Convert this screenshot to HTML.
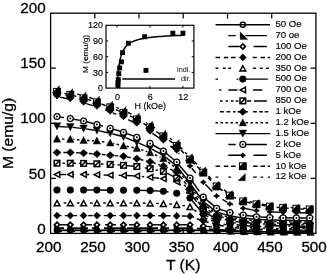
<!DOCTYPE html>
<html lang="en">
<head>
<meta charset="utf-8">
<title>M(T) curves</title>
<style>
html,body{margin:0;padding:0;background:#fff;}
body{width:327px;height:274px;overflow:hidden;}
svg{display:block;}
svg text{font-family:"Liberation Sans", Arial, Helvetica, sans-serif;}
</style>
</head>
<body>
<svg width="327" height="274" viewBox="0 0 327 274" fill="#000">
<rect width="327" height="274" fill="#fff"/>
<g id="curves">
<g stroke="#000" stroke-width="1.8" fill="none"><line x1="57.0" y1="230.3" x2="70.3" y2="230.3"/><line x1="70.3" y1="230.3" x2="83.6" y2="230.3"/><line x1="83.6" y1="230.3" x2="96.9" y2="230.3"/><line x1="96.9" y1="230.3" x2="110.2" y2="230.3"/><line x1="110.2" y1="230.3" x2="123.5" y2="230.3"/><line x1="123.5" y1="230.3" x2="136.8" y2="230.3"/><line x1="136.8" y1="230.3" x2="150.1" y2="230.3"/><line x1="150.1" y1="230.3" x2="163.4" y2="230.3"/><line x1="163.4" y1="230.3" x2="176.7" y2="230.3"/><line x1="176.7" y1="230.3" x2="190.0" y2="230.3"/><line x1="190.0" y1="230.3" x2="203.3" y2="230.3"/><line x1="203.3" y1="230.3" x2="216.6" y2="230.8"/><line x1="216.6" y1="230.8" x2="229.9" y2="231.3"/><line x1="229.9" y1="231.3" x2="243.2" y2="231.6"/><line x1="243.2" y1="231.6" x2="256.5" y2="231.8"/><line x1="256.5" y1="231.8" x2="269.8" y2="231.9"/><line x1="269.8" y1="231.9" x2="283.1" y2="232.0"/><line x1="283.1" y1="232.0" x2="296.4" y2="232.0"/><line x1="296.4" y1="232.0" x2="309.7" y2="232.0"/></g>
<g stroke="#000" stroke-width="1.8" fill="none"><line x1="57.5" y1="228.2" x2="69.8" y2="228.2" stroke-dasharray="7 5 19 4" stroke-dashoffset="0.5"/><line x1="70.8" y1="228.2" x2="83.1" y2="228.2" stroke-dasharray="7 5 19 4" stroke-dashoffset="13.8"/><line x1="84.1" y1="228.2" x2="96.4" y2="228.2" stroke-dasharray="7 5 19 4" stroke-dashoffset="27.1"/><line x1="97.4" y1="228.2" x2="109.7" y2="228.2" stroke-dasharray="7 5 19 4" stroke-dashoffset="5.4"/><line x1="110.7" y1="228.2" x2="123.0" y2="228.2" stroke-dasharray="7 5 19 4" stroke-dashoffset="18.7"/><line x1="124.0" y1="228.2" x2="136.3" y2="228.2" stroke-dasharray="7 5 19 4" stroke-dashoffset="32.0"/><line x1="137.3" y1="228.2" x2="149.6" y2="228.2" stroke-dasharray="7 5 19 4" stroke-dashoffset="10.3"/><line x1="150.6" y1="228.2" x2="162.9" y2="228.2" stroke-dasharray="7 5 19 4" stroke-dashoffset="23.6"/><line x1="163.9" y1="228.2" x2="176.2" y2="228.2" stroke-dasharray="7 5 19 4" stroke-dashoffset="1.9"/><line x1="177.2" y1="228.2" x2="189.5" y2="228.2" stroke-dasharray="7 5 19 4" stroke-dashoffset="15.2"/><line x1="190.5" y1="228.2" x2="202.8" y2="228.8" stroke-dasharray="7 5 19 4" stroke-dashoffset="28.5"/><line x1="203.8" y1="228.8" x2="216.1" y2="229.6" stroke-dasharray="7 5 19 4" stroke-dashoffset="6.8"/><line x1="217.1" y1="229.6" x2="229.4" y2="230.4" stroke-dasharray="7 5 19 4" stroke-dashoffset="20.1"/><line x1="230.4" y1="230.4" x2="242.7" y2="230.9" stroke-dasharray="7 5 19 4" stroke-dashoffset="33.5"/><line x1="243.7" y1="230.9" x2="256.0" y2="231.2" stroke-dasharray="7 5 19 4" stroke-dashoffset="11.8"/><line x1="257.0" y1="231.2" x2="269.3" y2="231.4" stroke-dasharray="7 5 19 4" stroke-dashoffset="25.1"/><line x1="270.3" y1="231.4" x2="282.6" y2="231.5" stroke-dasharray="7 5 19 4" stroke-dashoffset="3.4"/><line x1="283.6" y1="231.5" x2="295.9" y2="231.6" stroke-dasharray="7 5 19 4" stroke-dashoffset="16.7"/><line x1="296.9" y1="231.6" x2="309.2" y2="231.6" stroke-dasharray="7 5 19 4" stroke-dashoffset="30.0"/></g>
<g stroke="#000" stroke-width="1.45" fill="none"><line x1="60.2" y1="224.8" x2="67.1" y2="224.8" stroke-dasharray="11 13" stroke-dashoffset="3.2"/><line x1="73.5" y1="224.8" x2="80.4" y2="224.8" stroke-dasharray="11 13" stroke-dashoffset="16.5"/><line x1="86.8" y1="224.8" x2="93.7" y2="224.8" stroke-dasharray="11 13" stroke-dashoffset="5.8"/><line x1="100.1" y1="224.8" x2="107.0" y2="224.8" stroke-dasharray="11 13" stroke-dashoffset="19.1"/><line x1="113.4" y1="224.8" x2="120.3" y2="224.8" stroke-dasharray="11 13" stroke-dashoffset="8.4"/><line x1="126.7" y1="224.8" x2="133.6" y2="224.8" stroke-dasharray="11 13" stroke-dashoffset="21.7"/><line x1="140.0" y1="224.8" x2="146.9" y2="224.8" stroke-dasharray="11 13" stroke-dashoffset="11.0"/><line x1="153.3" y1="224.8" x2="160.2" y2="224.8" stroke-dasharray="11 13" stroke-dashoffset="0.3"/><line x1="166.6" y1="224.8" x2="173.5" y2="224.8" stroke-dasharray="11 13" stroke-dashoffset="13.6"/><line x1="179.9" y1="224.8" x2="186.8" y2="224.8" stroke-dasharray="11 13" stroke-dashoffset="2.9"/><line x1="193.2" y1="225.1" x2="200.1" y2="225.7" stroke-dasharray="11 13" stroke-dashoffset="16.2"/><line x1="206.5" y1="226.4" x2="213.4" y2="227.2" stroke-dasharray="11 13" stroke-dashoffset="5.6"/><line x1="219.8" y1="227.9" x2="226.7" y2="228.7" stroke-dasharray="11 13" stroke-dashoffset="18.9"/><line x1="233.1" y1="229.2" x2="240.0" y2="229.6" stroke-dasharray="11 13" stroke-dashoffset="8.3"/><line x1="246.4" y1="229.9" x2="253.3" y2="230.2" stroke-dasharray="11 13" stroke-dashoffset="21.6"/><line x1="259.7" y1="230.4" x2="266.6" y2="230.5" stroke-dasharray="11 13" stroke-dashoffset="11.0"/><line x1="273.0" y1="230.6" x2="279.9" y2="230.8" stroke-dasharray="11 13" stroke-dashoffset="0.3"/><line x1="286.3" y1="230.8" x2="293.2" y2="230.9" stroke-dasharray="11 13" stroke-dashoffset="13.6"/><line x1="299.6" y1="230.9" x2="306.5" y2="231.0" stroke-dasharray="11 13" stroke-dashoffset="2.9"/></g>
<g stroke="#000" stroke-width="1.45" fill="none"><line x1="59.9" y1="215.6" x2="67.4" y2="215.6" stroke-dasharray="4.5 3.3" stroke-dashoffset="2.9"/><line x1="73.2" y1="215.6" x2="80.7" y2="215.6" stroke-dasharray="4.5 3.3" stroke-dashoffset="0.6"/><line x1="86.5" y1="215.6" x2="94.0" y2="215.6" stroke-dasharray="4.5 3.3" stroke-dashoffset="6.1"/><line x1="99.8" y1="215.6" x2="107.3" y2="215.6" stroke-dasharray="4.5 3.3" stroke-dashoffset="3.8"/><line x1="113.1" y1="215.6" x2="120.6" y2="215.6" stroke-dasharray="4.5 3.3" stroke-dashoffset="1.5"/><line x1="126.4" y1="215.6" x2="133.9" y2="215.6" stroke-dasharray="4.5 3.3" stroke-dashoffset="7.0"/><line x1="139.7" y1="215.6" x2="147.2" y2="215.6" stroke-dasharray="4.5 3.3" stroke-dashoffset="4.7"/><line x1="153.0" y1="215.6" x2="160.5" y2="215.7" stroke-dasharray="4.5 3.3" stroke-dashoffset="2.4"/><line x1="166.3" y1="215.7" x2="173.8" y2="215.9" stroke-dasharray="4.5 3.3" stroke-dashoffset="0.1"/><line x1="179.6" y1="216.0" x2="187.1" y2="216.1" stroke-dasharray="4.5 3.3" stroke-dashoffset="5.6"/><line x1="192.7" y1="217.2" x2="200.6" y2="220.0" stroke-dasharray="4.5 3.3" stroke-dashoffset="3.3"/><line x1="206.1" y1="221.8" x2="213.8" y2="223.8" stroke-dasharray="4.5 3.3" stroke-dashoffset="1.8"/><line x1="219.4" y1="225.2" x2="227.1" y2="226.6" stroke-dasharray="4.5 3.3" stroke-dashoffset="0.0"/><line x1="232.8" y1="227.5" x2="240.3" y2="228.1" stroke-dasharray="4.5 3.3" stroke-dashoffset="5.8"/><line x1="246.1" y1="228.6" x2="253.6" y2="228.9" stroke-dasharray="4.5 3.3" stroke-dashoffset="3.5"/><line x1="259.4" y1="229.2" x2="266.9" y2="229.4" stroke-dasharray="4.5 3.3" stroke-dashoffset="1.2"/><line x1="272.7" y1="229.6" x2="280.2" y2="229.7" stroke-dasharray="4.5 3.3" stroke-dashoffset="6.8"/><line x1="286.0" y1="229.8" x2="293.5" y2="229.9" stroke-dasharray="4.5 3.3" stroke-dashoffset="4.5"/><line x1="299.3" y1="229.9" x2="306.8" y2="230.0" stroke-dasharray="4.5 3.3" stroke-dashoffset="2.2"/></g>
<g stroke="#000" stroke-width="1.45" fill="none"><line x1="60.0" y1="203.0" x2="67.3" y2="203.0" stroke-dasharray="2.7 3.9" stroke-dashoffset="3.0"/><line x1="73.3" y1="203.0" x2="80.6" y2="203.0" stroke-dasharray="2.7 3.9" stroke-dashoffset="3.1"/><line x1="86.6" y1="203.0" x2="93.9" y2="203.0" stroke-dasharray="2.7 3.9" stroke-dashoffset="3.2"/><line x1="99.9" y1="203.0" x2="107.2" y2="203.0" stroke-dasharray="2.7 3.9" stroke-dashoffset="3.3"/><line x1="113.2" y1="203.0" x2="120.5" y2="203.0" stroke-dasharray="2.7 3.9" stroke-dashoffset="3.4"/><line x1="126.5" y1="203.0" x2="133.8" y2="203.0" stroke-dasharray="2.7 3.9" stroke-dashoffset="3.5"/><line x1="139.8" y1="203.0" x2="147.1" y2="203.2" stroke-dasharray="2.7 3.9" stroke-dashoffset="3.6"/><line x1="153.1" y1="203.3" x2="160.4" y2="203.5" stroke-dasharray="2.7 3.9" stroke-dashoffset="3.7"/><line x1="166.4" y1="203.8" x2="173.7" y2="204.4" stroke-dasharray="2.7 3.9" stroke-dashoffset="3.8"/><line x1="179.7" y1="205.0" x2="187.0" y2="206.2" stroke-dasharray="2.7 3.9" stroke-dashoffset="3.9"/><line x1="192.4" y1="208.4" x2="200.9" y2="215.2" stroke-dasharray="2.7 3.9" stroke-dashoffset="4.2"/><line x1="206.1" y1="218.2" x2="213.8" y2="221.4" stroke-dasharray="2.7 3.9" stroke-dashoffset="1.3"/><line x1="219.5" y1="223.3" x2="227.0" y2="224.9" stroke-dasharray="2.7 3.9" stroke-dashoffset="2.5"/><line x1="232.9" y1="225.9" x2="240.2" y2="226.7" stroke-dasharray="2.7 3.9" stroke-dashoffset="2.9"/><line x1="246.2" y1="227.2" x2="253.5" y2="227.6" stroke-dasharray="2.7 3.9" stroke-dashoffset="3.1"/><line x1="259.5" y1="227.9" x2="266.8" y2="228.2" stroke-dasharray="2.7 3.9" stroke-dashoffset="3.2"/><line x1="272.8" y1="228.4" x2="280.1" y2="228.5" stroke-dasharray="2.7 3.9" stroke-dashoffset="3.3"/><line x1="286.1" y1="228.6" x2="293.4" y2="228.8" stroke-dasharray="2.7 3.9" stroke-dashoffset="3.5"/><line x1="299.4" y1="228.8" x2="306.7" y2="228.9" stroke-dasharray="2.7 3.9" stroke-dashoffset="3.6"/></g>
<g stroke="#000" stroke-width="1.45" fill="none"><line x1="60.2" y1="190.0" x2="67.1" y2="190.0" stroke-dasharray="2.5 24 25 3" stroke-dashoffset="3.2"/><line x1="73.5" y1="190.0" x2="80.4" y2="190.0" stroke-dasharray="2.5 24 25 3" stroke-dashoffset="16.5"/><line x1="86.8" y1="190.0" x2="93.7" y2="190.0" stroke-dasharray="2.5 24 25 3" stroke-dashoffset="29.8"/><line x1="100.1" y1="190.0" x2="107.0" y2="190.2" stroke-dasharray="2.5 24 25 3" stroke-dashoffset="43.1"/><line x1="113.4" y1="190.2" x2="120.3" y2="190.3" stroke-dasharray="2.5 24 25 3" stroke-dashoffset="1.9"/><line x1="126.7" y1="190.3" x2="133.6" y2="190.3" stroke-dasharray="2.5 24 25 3" stroke-dashoffset="15.2"/><line x1="140.0" y1="190.4" x2="146.9" y2="190.5" stroke-dasharray="2.5 24 25 3" stroke-dashoffset="28.5"/><line x1="153.3" y1="190.8" x2="160.2" y2="191.1" stroke-dasharray="2.5 24 25 3" stroke-dashoffset="41.8"/><line x1="166.6" y1="191.8" x2="173.5" y2="192.8" stroke-dasharray="2.5 24 25 3" stroke-dashoffset="0.6"/><line x1="179.7" y1="194.4" x2="187.0" y2="196.9" stroke-dasharray="2.5 24 25 3" stroke-dashoffset="14.1"/><line x1="192.0" y1="200.5" x2="201.3" y2="211.5" stroke-dasharray="2.5 24 25 3" stroke-dashoffset="28.2"/><line x1="206.1" y1="215.5" x2="213.8" y2="219.3" stroke-dasharray="2.5 24 25 3" stroke-dashoffset="49.0"/><line x1="219.7" y1="221.5" x2="226.8" y2="223.3" stroke-dasharray="2.5 24 25 3" stroke-dashoffset="9.4"/><line x1="233.1" y1="224.4" x2="240.0" y2="225.1" stroke-dasharray="2.5 24 25 3" stroke-dashoffset="23.1"/><line x1="246.4" y1="225.7" x2="253.3" y2="226.2" stroke-dasharray="2.5 24 25 3" stroke-dashoffset="36.5"/><line x1="259.7" y1="226.5" x2="266.6" y2="226.9" stroke-dasharray="2.5 24 25 3" stroke-dashoffset="49.8"/><line x1="273.0" y1="227.1" x2="279.9" y2="227.2" stroke-dasharray="2.5 24 25 3" stroke-dashoffset="8.6"/><line x1="286.3" y1="227.3" x2="293.2" y2="227.5" stroke-dasharray="2.5 24 25 3" stroke-dashoffset="21.9"/><line x1="299.6" y1="227.5" x2="306.5" y2="227.6" stroke-dasharray="2.5 24 25 3" stroke-dashoffset="35.2"/></g>
<g stroke="#000" stroke-width="1.45" fill="none"><line x1="60.0" y1="174.5" x2="67.3" y2="174.5" stroke-dasharray="9 6 2.3 6" stroke-dashoffset="3.0"/><line x1="73.3" y1="174.5" x2="80.6" y2="174.5" stroke-dasharray="9 6 2.3 6" stroke-dashoffset="16.3"/><line x1="86.6" y1="174.5" x2="93.9" y2="174.7" stroke-dasharray="9 6 2.3 6" stroke-dashoffset="6.3"/><line x1="99.9" y1="174.8" x2="107.2" y2="175.1" stroke-dasharray="9 6 2.3 6" stroke-dashoffset="19.6"/><line x1="113.2" y1="175.2" x2="120.5" y2="175.4" stroke-dasharray="9 6 2.3 6" stroke-dashoffset="9.6"/><line x1="126.5" y1="175.5" x2="133.8" y2="175.9" stroke-dasharray="9 6 2.3 6" stroke-dashoffset="22.9"/><line x1="139.8" y1="176.3" x2="147.1" y2="177.0" stroke-dasharray="9 6 2.3 6" stroke-dashoffset="12.9"/><line x1="153.1" y1="177.6" x2="160.4" y2="178.5" stroke-dasharray="9 6 2.3 6" stroke-dashoffset="3.0"/><line x1="166.3" y1="179.5" x2="173.8" y2="181.1" stroke-dasharray="9 6 2.3 6" stroke-dashoffset="16.4"/><line x1="179.0" y1="183.7" x2="187.7" y2="190.6" stroke-dasharray="9 6 2.3 6" stroke-dashoffset="6.7"/><line x1="191.7" y1="195.0" x2="201.6" y2="209.0" stroke-dasharray="9 6 2.3 6" stroke-dashoffset="0.5"/><line x1="205.9" y1="213.0" x2="214.0" y2="217.5" stroke-dasharray="9 6 2.3 6" stroke-dashoffset="0.4"/><line x1="219.5" y1="219.7" x2="227.0" y2="221.7" stroke-dasharray="9 6 2.3 6" stroke-dashoffset="15.6"/><line x1="232.9" y1="222.8" x2="240.2" y2="223.6" stroke-dasharray="9 6 2.3 6" stroke-dashoffset="6.1"/><line x1="246.2" y1="224.2" x2="253.5" y2="224.8" stroke-dasharray="9 6 2.3 6" stroke-dashoffset="19.5"/><line x1="259.5" y1="225.1" x2="266.8" y2="225.5" stroke-dasharray="9 6 2.3 6" stroke-dashoffset="9.5"/><line x1="272.8" y1="225.7" x2="280.1" y2="225.8" stroke-dasharray="9 6 2.3 6" stroke-dashoffset="22.8"/><line x1="286.1" y1="225.9" x2="293.4" y2="226.1" stroke-dasharray="9 6 2.3 6" stroke-dashoffset="12.8"/><line x1="299.4" y1="226.1" x2="306.7" y2="226.2" stroke-dasharray="9 6 2.3 6" stroke-dashoffset="2.8"/></g>
<g stroke="#000" stroke-width="1.45" fill="none"><line x1="60.2" y1="163.2" x2="67.1" y2="163.2" stroke-dasharray="2.4 3.1 2.4 3.1 2.4 3.1 2.4 3.1 17 5" stroke-dashoffset="3.2"/><line x1="73.5" y1="163.2" x2="80.4" y2="163.4" stroke-dasharray="2.4 3.1 2.4 3.1 2.4 3.1 2.4 3.1 17 5" stroke-dashoffset="16.5"/><line x1="86.8" y1="163.5" x2="93.7" y2="163.7" stroke-dasharray="2.4 3.1 2.4 3.1 2.4 3.1 2.4 3.1 17 5" stroke-dashoffset="29.8"/><line x1="100.1" y1="163.9" x2="107.0" y2="164.3" stroke-dasharray="2.4 3.1 2.4 3.1 2.4 3.1 2.4 3.1 17 5" stroke-dashoffset="43.1"/><line x1="113.4" y1="164.6" x2="120.3" y2="165.1" stroke-dasharray="2.4 3.1 2.4 3.1 2.4 3.1 2.4 3.1 17 5" stroke-dashoffset="12.4"/><line x1="126.7" y1="165.6" x2="133.6" y2="166.2" stroke-dasharray="2.4 3.1 2.4 3.1 2.4 3.1 2.4 3.1 17 5" stroke-dashoffset="25.8"/><line x1="140.0" y1="167.0" x2="146.9" y2="168.2" stroke-dasharray="2.4 3.1 2.4 3.1 2.4 3.1 2.4 3.1 17 5" stroke-dashoffset="39.1"/><line x1="153.2" y1="169.4" x2="160.3" y2="170.8" stroke-dasharray="2.4 3.1 2.4 3.1 2.4 3.1 2.4 3.1 17 5" stroke-dashoffset="8.6"/><line x1="166.3" y1="172.9" x2="173.8" y2="176.6" stroke-dasharray="2.4 3.1 2.4 3.1 2.4 3.1 2.4 3.1 17 5" stroke-dashoffset="22.2"/><line x1="179.0" y1="180.2" x2="187.7" y2="188.3" stroke-dasharray="2.4 3.1 2.4 3.1 2.4 3.1 2.4 3.1 17 5" stroke-dashoffset="37.0"/><line x1="191.8" y1="193.1" x2="201.5" y2="206.9" stroke-dasharray="2.4 3.1 2.4 3.1 2.4 3.1 2.4 3.1 17 5" stroke-dashoffset="11.2"/><line x1="206.1" y1="211.1" x2="213.8" y2="215.6" stroke-dasharray="2.4 3.1 2.4 3.1 2.4 3.1 2.4 3.1 17 5" stroke-dashoffset="34.4"/><line x1="219.7" y1="218.0" x2="226.8" y2="220.0" stroke-dasharray="2.4 3.1 2.4 3.1 2.4 3.1 2.4 3.1 17 5" stroke-dashoffset="5.8"/><line x1="233.1" y1="221.2" x2="240.0" y2="222.1" stroke-dasharray="2.4 3.1 2.4 3.1 2.4 3.1 2.4 3.1 17 5" stroke-dashoffset="19.6"/><line x1="246.4" y1="222.8" x2="253.3" y2="223.3" stroke-dasharray="2.4 3.1 2.4 3.1 2.4 3.1 2.4 3.1 17 5" stroke-dashoffset="33.0"/><line x1="259.7" y1="223.8" x2="266.6" y2="224.1" stroke-dasharray="2.4 3.1 2.4 3.1 2.4 3.1 2.4 3.1 17 5" stroke-dashoffset="2.3"/><line x1="273.0" y1="224.4" x2="279.9" y2="224.5" stroke-dasharray="2.4 3.1 2.4 3.1 2.4 3.1 2.4 3.1 17 5" stroke-dashoffset="15.6"/><line x1="286.3" y1="224.6" x2="293.2" y2="224.8" stroke-dasharray="2.4 3.1 2.4 3.1 2.4 3.1 2.4 3.1 17 5" stroke-dashoffset="28.9"/><line x1="299.6" y1="224.8" x2="306.5" y2="224.9" stroke-dasharray="2.4 3.1 2.4 3.1 2.4 3.1 2.4 3.1 17 5" stroke-dashoffset="42.2"/></g>
<g stroke="#000" stroke-width="1.45" fill="none"><line x1="60.6" y1="152.5" x2="66.7" y2="152.5" stroke-dasharray="3.7 2.7" stroke-dashoffset="3.6"/><line x1="73.9" y1="152.7" x2="80.0" y2="152.9" stroke-dasharray="3.7 2.7" stroke-dashoffset="4.1"/><line x1="87.2" y1="153.3" x2="93.3" y2="153.8" stroke-dasharray="3.7 2.7" stroke-dashoffset="4.6"/><line x1="100.5" y1="154.4" x2="106.6" y2="154.9" stroke-dasharray="3.7 2.7" stroke-dashoffset="5.1"/><line x1="113.8" y1="155.6" x2="119.9" y2="156.0" stroke-dasharray="3.7 2.7" stroke-dashoffset="5.7"/><line x1="127.0" y1="156.9" x2="133.3" y2="158.1" stroke-dasharray="3.7 2.7" stroke-dashoffset="6.2"/><line x1="140.3" y1="159.5" x2="146.6" y2="160.9" stroke-dasharray="3.7 2.7" stroke-dashoffset="0.6"/><line x1="153.5" y1="162.8" x2="160.0" y2="164.9" stroke-dasharray="3.7 2.7" stroke-dashoffset="1.4"/><line x1="166.7" y1="167.5" x2="173.4" y2="170.5" stroke-dasharray="3.7 2.7" stroke-dashoffset="2.6"/><line x1="178.9" y1="174.8" x2="187.8" y2="186.2" stroke-dasharray="3.7 2.7" stroke-dashoffset="4.4"/><line x1="192.1" y1="191.9" x2="201.2" y2="204.1" stroke-dasharray="3.7 2.7" stroke-dashoffset="0.3"/><line x1="206.3" y1="208.9" x2="213.6" y2="213.6" stroke-dasharray="3.7 2.7" stroke-dashoffset="3.5"/><line x1="220.1" y1="216.5" x2="226.4" y2="218.2" stroke-dasharray="3.7 2.7" stroke-dashoffset="0.1"/><line x1="233.5" y1="219.7" x2="239.6" y2="220.5" stroke-dasharray="3.7 2.7" stroke-dashoffset="1.1"/><line x1="246.8" y1="221.3" x2="252.9" y2="221.9" stroke-dasharray="3.7 2.7" stroke-dashoffset="1.7"/><line x1="260.1" y1="222.4" x2="266.2" y2="222.7" stroke-dasharray="3.7 2.7" stroke-dashoffset="2.3"/><line x1="273.4" y1="223.0" x2="279.5" y2="223.1" stroke-dasharray="3.7 2.7" stroke-dashoffset="2.8"/><line x1="286.7" y1="223.3" x2="292.8" y2="223.3" stroke-dasharray="3.7 2.7" stroke-dashoffset="3.3"/><line x1="300.0" y1="223.4" x2="306.1" y2="223.5" stroke-dasharray="3.7 2.7" stroke-dashoffset="3.8"/></g>
<g stroke="#000" stroke-width="1.45" fill="none"><line x1="60.0" y1="139.0" x2="67.3" y2="139.2" stroke-dasharray="2.5 2.5" stroke-dashoffset="3.0"/><line x1="73.3" y1="139.4" x2="80.6" y2="140.1" stroke-dasharray="2.5 2.5" stroke-dashoffset="1.3"/><line x1="86.6" y1="140.4" x2="93.9" y2="140.8" stroke-dasharray="2.5 2.5" stroke-dashoffset="4.6"/><line x1="99.9" y1="141.3" x2="107.2" y2="142.4" stroke-dasharray="2.5 2.5" stroke-dashoffset="3.0"/><line x1="113.1" y1="143.5" x2="120.6" y2="145.1" stroke-dasharray="2.5 2.5" stroke-dashoffset="1.4"/><line x1="126.5" y1="146.3" x2="133.8" y2="147.7" stroke-dasharray="2.5 2.5" stroke-dashoffset="0.0"/><line x1="139.6" y1="149.1" x2="147.3" y2="151.7" stroke-dasharray="2.5 2.5" stroke-dashoffset="3.5"/><line x1="152.8" y1="153.8" x2="160.7" y2="157.3" stroke-dasharray="2.5 2.5" stroke-dashoffset="2.6"/><line x1="165.8" y1="160.3" x2="174.3" y2="166.7" stroke-dasharray="2.5 2.5" stroke-dashoffset="2.1"/><line x1="178.5" y1="170.9" x2="188.2" y2="183.6" stroke-dasharray="2.5 2.5" stroke-dashoffset="3.7"/><line x1="191.8" y1="188.4" x2="201.5" y2="201.6" stroke-dasharray="2.5 2.5" stroke-dashoffset="0.7"/><line x1="205.7" y1="205.8" x2="214.2" y2="212.0" stroke-dasharray="2.5 2.5" stroke-dashoffset="3.1"/><line x1="219.5" y1="214.6" x2="227.0" y2="216.8" stroke-dasharray="2.5 2.5" stroke-dashoffset="4.6"/><line x1="232.9" y1="218.0" x2="240.2" y2="219.1" stroke-dasharray="2.5 2.5" stroke-dashoffset="3.5"/><line x1="246.2" y1="219.8" x2="253.5" y2="220.5" stroke-dasharray="2.5 2.5" stroke-dashoffset="1.9"/><line x1="259.5" y1="221.0" x2="266.8" y2="221.3" stroke-dasharray="2.5 2.5" stroke-dashoffset="0.3"/><line x1="272.8" y1="221.6" x2="280.1" y2="221.7" stroke-dasharray="2.5 2.5" stroke-dashoffset="3.6"/><line x1="286.1" y1="221.8" x2="293.4" y2="222.0" stroke-dasharray="2.5 2.5" stroke-dashoffset="1.9"/><line x1="299.4" y1="222.0" x2="306.7" y2="222.1" stroke-dasharray="2.5 2.5" stroke-dashoffset="0.2"/></g>
<g stroke="#000" stroke-width="1.45" fill="none"><line x1="59.2" y1="126.5" x2="68.1" y2="127.1"/><line x1="72.5" y1="127.4" x2="81.4" y2="128.4"/><line x1="85.8" y1="128.9" x2="94.7" y2="130.2"/><line x1="99.1" y1="130.9" x2="108.0" y2="132.8"/><line x1="112.3" y1="133.8" x2="121.4" y2="136.2"/><line x1="125.5" y1="137.6" x2="134.8" y2="141.5"/><line x1="138.8" y1="143.2" x2="148.1" y2="147.1"/><line x1="152.0" y1="149.1" x2="161.5" y2="154.4"/><line x1="165.1" y1="156.9" x2="175.0" y2="164.6"/><line x1="178.0" y1="167.8" x2="188.7" y2="181.7"/><line x1="191.3" y1="185.3" x2="202.0" y2="199.7"/><line x1="205.0" y1="202.9" x2="214.9" y2="210.6"/><line x1="218.7" y1="212.6" x2="227.8" y2="215.4"/><line x1="232.1" y1="216.3" x2="241.0" y2="217.7"/><line x1="245.4" y1="218.2" x2="254.3" y2="219.1"/><line x1="258.7" y1="219.4" x2="267.6" y2="219.9"/><line x1="272.0" y1="220.0" x2="280.9" y2="220.3"/><line x1="285.3" y1="220.3" x2="294.2" y2="220.5"/><line x1="298.6" y1="220.5" x2="307.5" y2="220.6"/></g>
<g stroke="#000" stroke-width="1.45" fill="none"><line x1="60.2" y1="117.0" x2="67.1" y2="118.1" stroke-dasharray="7 7 26 0" stroke-dashoffset="3.2"/><line x1="73.4" y1="119.2" x2="80.5" y2="120.4" stroke-dasharray="7 7 26 0" stroke-dashoffset="16.7"/><line x1="86.7" y1="121.8" x2="93.8" y2="123.8" stroke-dasharray="7 7 26 0" stroke-dashoffset="30.2"/><line x1="100.0" y1="125.4" x2="107.1" y2="127.4" stroke-dasharray="7 7 26 0" stroke-dashoffset="4.0"/><line x1="113.3" y1="129.1" x2="120.4" y2="131.3" stroke-dasharray="7 7 26 0" stroke-dashoffset="17.7"/><line x1="126.5" y1="133.3" x2="133.8" y2="136.2" stroke-dasharray="7 7 26 0" stroke-dashoffset="31.6"/><line x1="139.7" y1="138.6" x2="147.2" y2="142.1" stroke-dasharray="7 7 26 0" stroke-dashoffset="5.9"/><line x1="152.9" y1="145.0" x2="160.6" y2="149.4" stroke-dasharray="7 7 26 0" stroke-dashoffset="20.5"/><line x1="165.9" y1="153.0" x2="174.2" y2="160.0" stroke-dasharray="7 7 26 0" stroke-dashoffset="35.8"/><line x1="178.7" y1="164.5" x2="188.0" y2="175.5" stroke-dasharray="7 7 26 0" stroke-dashoffset="13.1"/><line x1="191.8" y1="180.6" x2="201.5" y2="194.4" stroke-dasharray="7 7 26 0" stroke-dashoffset="33.9"/><line x1="205.7" y1="199.1" x2="214.2" y2="206.1" stroke-dasharray="7 7 26 0" stroke-dashoffset="17.1"/><line x1="219.6" y1="209.2" x2="226.9" y2="211.6" stroke-dasharray="7 7 26 0" stroke-dashoffset="34.5"/><line x1="233.0" y1="213.2" x2="240.1" y2="214.5" stroke-dasharray="7 7 26 0" stroke-dashoffset="8.5"/><line x1="246.4" y1="215.5" x2="253.3" y2="216.3" stroke-dasharray="7 7 26 0" stroke-dashoffset="22.0"/><line x1="259.7" y1="216.9" x2="266.6" y2="217.3" stroke-dasharray="7 7 26 0" stroke-dashoffset="35.4"/><line x1="273.0" y1="217.6" x2="279.9" y2="217.8" stroke-dasharray="7 7 26 0" stroke-dashoffset="8.7"/><line x1="286.3" y1="217.9" x2="293.2" y2="217.9" stroke-dasharray="7 7 26 0" stroke-dashoffset="22.0"/><line x1="299.6" y1="217.9" x2="306.5" y2="217.9" stroke-dasharray="7 7 26 0" stroke-dashoffset="35.3"/></g>
<g stroke="#000" stroke-width="1.45" fill="none"><line x1="59.7" y1="97.1" x2="67.6" y2="98.7" stroke-dasharray="12 13" stroke-dashoffset="2.8"/><line x1="73.0" y1="100.0" x2="80.9" y2="102.1" stroke-dasharray="12 13" stroke-dashoffset="16.4"/><line x1="86.3" y1="103.6" x2="94.2" y2="106.0" stroke-dasharray="12 13" stroke-dashoffset="5.1"/><line x1="99.5" y1="107.8" x2="107.6" y2="110.8" stroke-dasharray="12 13" stroke-dashoffset="19.0"/><line x1="112.8" y1="112.9" x2="120.9" y2="116.2" stroke-dasharray="12 13" stroke-dashoffset="8.2"/><line x1="126.0" y1="118.5" x2="134.3" y2="122.6" stroke-dasharray="12 13" stroke-dashoffset="22.6"/><line x1="139.2" y1="125.2" x2="147.7" y2="130.4" stroke-dasharray="12 13" stroke-dashoffset="12.4"/><line x1="152.4" y1="133.4" x2="161.1" y2="139.2" stroke-dasharray="12 13" stroke-dashoffset="3.0"/><line x1="165.6" y1="142.5" x2="174.5" y2="149.1" stroke-dasharray="12 13" stroke-dashoffset="19.0"/><line x1="178.5" y1="152.9" x2="188.2" y2="163.9" stroke-dasharray="12 13" stroke-dashoffset="10.7"/><line x1="191.8" y1="168.2" x2="201.5" y2="180.1" stroke-dasharray="12 13" stroke-dashoffset="5.9"/><line x1="205.3" y1="184.3" x2="214.6" y2="193.9" stroke-dasharray="12 13" stroke-dashoffset="1.9"/><line x1="219.0" y1="197.3" x2="227.5" y2="202.5" stroke-dasharray="12 13" stroke-dashoffset="20.9"/><line x1="232.6" y1="204.8" x2="240.5" y2="207.4" stroke-dasharray="12 13" stroke-dashoffset="11.4"/><line x1="246.0" y1="208.8" x2="253.7" y2="210.1" stroke-dasharray="12 13" stroke-dashoffset="0.4"/><line x1="259.3" y1="210.9" x2="267.0" y2="211.6" stroke-dasharray="12 13" stroke-dashoffset="13.9"/><line x1="272.6" y1="212.0" x2="280.3" y2="212.4" stroke-dasharray="12 13" stroke-dashoffset="2.3"/><line x1="285.9" y1="212.6" x2="293.6" y2="212.7" stroke-dasharray="12 13" stroke-dashoffset="15.6"/><line x1="299.2" y1="212.8" x2="306.9" y2="213.0" stroke-dasharray="12 13" stroke-dashoffset="3.9"/></g>
<g stroke="#000" stroke-width="1.45" fill="none"><line x1="60.7" y1="92.6" x2="66.6" y2="94.0" stroke-dasharray="4.5 3.2" stroke-dashoffset="3.8"/><line x1="74.0" y1="95.8" x2="79.9" y2="97.3" stroke-dasharray="4.5 3.2" stroke-dashoffset="2.0"/><line x1="87.2" y1="99.4" x2="93.3" y2="101.2" stroke-dasharray="4.5 3.2" stroke-dashoffset="0.4"/><line x1="100.5" y1="103.6" x2="106.6" y2="106.0" stroke-dasharray="4.5 3.2" stroke-dashoffset="6.6"/><line x1="113.7" y1="108.8" x2="120.0" y2="111.3" stroke-dasharray="4.5 3.2" stroke-dashoffset="5.4"/><line x1="126.9" y1="114.5" x2="133.4" y2="117.6" stroke-dasharray="4.5 3.2" stroke-dashoffset="4.4"/><line x1="140.1" y1="121.3" x2="146.8" y2="125.3" stroke-dasharray="4.5 3.2" stroke-dashoffset="3.8"/><line x1="153.2" y1="129.4" x2="160.3" y2="134.2" stroke-dasharray="4.5 3.2" stroke-dashoffset="3.9"/><line x1="166.5" y1="138.5" x2="173.6" y2="143.6" stroke-dasharray="4.5 3.2" stroke-dashoffset="4.6"/><line x1="179.3" y1="148.5" x2="187.4" y2="156.9" stroke-dasharray="4.5 3.2" stroke-dashoffset="5.5"/><line x1="192.7" y1="162.3" x2="200.6" y2="169.9" stroke-dasharray="4.5 3.2" stroke-dashoffset="1.6"/><line x1="205.9" y1="175.3" x2="214.0" y2="183.7" stroke-dasharray="4.5 3.2" stroke-dashoffset="4.8"/><line x1="219.7" y1="188.6" x2="226.8" y2="193.4" stroke-dasharray="4.5 3.2" stroke-dashoffset="0.8"/><line x1="233.4" y1="197.1" x2="239.7" y2="199.9" stroke-dasharray="4.5 3.2" stroke-dashoffset="1.6"/><line x1="246.9" y1="202.2" x2="252.8" y2="203.5" stroke-dasharray="4.5 3.2" stroke-dashoffset="0.7"/><line x1="260.2" y1="204.9" x2="266.1" y2="206.0" stroke-dasharray="4.5 3.2" stroke-dashoffset="6.6"/><line x1="273.6" y1="206.9" x2="279.3" y2="207.5" stroke-dasharray="4.5 3.2" stroke-dashoffset="4.7"/><line x1="286.9" y1="208.1" x2="292.6" y2="208.4" stroke-dasharray="4.5 3.2" stroke-dashoffset="2.7"/><line x1="300.2" y1="208.9" x2="305.9" y2="209.2" stroke-dasharray="4.5 3.2" stroke-dashoffset="0.6"/></g>
<g stroke="#000" stroke-width="1.45" fill="none"><line x1="60.7" y1="90.1" x2="66.6" y2="91.5" stroke-dasharray="2.7 10 4 4" stroke-dashoffset="3.8"/><line x1="74.0" y1="93.3" x2="79.9" y2="94.8" stroke-dasharray="2.7 10 4 4" stroke-dashoffset="17.4"/><line x1="87.2" y1="96.9" x2="93.3" y2="98.7" stroke-dasharray="2.7 10 4 4" stroke-dashoffset="10.5"/><line x1="100.5" y1="101.1" x2="106.6" y2="103.5" stroke-dasharray="2.7 10 4 4" stroke-dashoffset="3.7"/><line x1="113.7" y1="106.3" x2="120.0" y2="108.8" stroke-dasharray="2.7 10 4 4" stroke-dashoffset="17.9"/><line x1="126.9" y1="112.0" x2="133.4" y2="115.1" stroke-dasharray="2.7 10 4 4" stroke-dashoffset="11.6"/><line x1="140.1" y1="118.8" x2="146.8" y2="122.8" stroke-dasharray="2.7 10 4 4" stroke-dashoffset="5.7"/><line x1="153.2" y1="126.9" x2="160.3" y2="131.7" stroke-dasharray="2.7 10 4 4" stroke-dashoffset="0.5"/><line x1="166.5" y1="136.0" x2="173.6" y2="141.1" stroke-dasharray="2.7 10 4 4" stroke-dashoffset="16.6"/><line x1="179.3" y1="146.1" x2="187.4" y2="154.5" stroke-dasharray="2.7 10 4 4" stroke-dashoffset="12.2"/><line x1="192.7" y1="160.0" x2="200.6" y2="167.8" stroke-dasharray="2.7 10 4 4" stroke-dashoffset="10.8"/><line x1="205.9" y1="173.3" x2="214.0" y2="181.8" stroke-dasharray="2.7 10 4 4" stroke-dashoffset="8.9"/><line x1="219.7" y1="186.8" x2="226.8" y2="192.0" stroke-dasharray="2.7 10 4 4" stroke-dashoffset="7.5"/><line x1="233.4" y1="195.8" x2="239.7" y2="198.6" stroke-dasharray="2.7 10 4 4" stroke-dashoffset="3.2"/><line x1="246.9" y1="201.0" x2="252.8" y2="202.4" stroke-dasharray="2.7 10 4 4" stroke-dashoffset="17.8"/><line x1="260.2" y1="203.9" x2="266.1" y2="204.9" stroke-dasharray="2.7 10 4 4" stroke-dashoffset="10.8"/><line x1="273.6" y1="206.0" x2="279.3" y2="206.5" stroke-dasharray="2.7 10 4 4" stroke-dashoffset="3.6"/><line x1="286.9" y1="207.2" x2="292.6" y2="207.5" stroke-dasharray="2.7 10 4 4" stroke-dashoffset="16.9"/><line x1="300.2" y1="208.0" x2="305.9" y2="208.4" stroke-dasharray="2.7 10 4 4" stroke-dashoffset="9.6"/></g>
<g><circle cx="57.0" cy="230.3" r="2.6" fill="none" stroke="#000" stroke-width="1.45"/><circle cx="70.3" cy="230.3" r="2.6" fill="none" stroke="#000" stroke-width="1.45"/><circle cx="83.6" cy="230.3" r="2.6" fill="none" stroke="#000" stroke-width="1.45"/><circle cx="96.9" cy="230.3" r="2.6" fill="none" stroke="#000" stroke-width="1.45"/><circle cx="110.2" cy="230.3" r="2.6" fill="none" stroke="#000" stroke-width="1.45"/><circle cx="123.5" cy="230.3" r="2.6" fill="none" stroke="#000" stroke-width="1.45"/><circle cx="136.8" cy="230.3" r="2.6" fill="none" stroke="#000" stroke-width="1.45"/><circle cx="150.1" cy="230.3" r="2.6" fill="none" stroke="#000" stroke-width="1.45"/><circle cx="163.4" cy="230.3" r="2.6" fill="none" stroke="#000" stroke-width="1.45"/><circle cx="176.7" cy="230.3" r="2.6" fill="none" stroke="#000" stroke-width="1.45"/><circle cx="190.0" cy="230.3" r="2.6" fill="none" stroke="#000" stroke-width="1.45"/><circle cx="203.3" cy="230.3" r="2.6" fill="none" stroke="#000" stroke-width="1.45"/><circle cx="216.6" cy="230.8" r="2.6" fill="none" stroke="#000" stroke-width="1.45"/><circle cx="229.9" cy="231.3" r="2.6" fill="none" stroke="#000" stroke-width="1.45"/><circle cx="243.2" cy="231.6" r="2.6" fill="none" stroke="#000" stroke-width="1.45"/><circle cx="256.5" cy="231.8" r="2.6" fill="none" stroke="#000" stroke-width="1.45"/><circle cx="269.8" cy="231.9" r="2.6" fill="none" stroke="#000" stroke-width="1.45"/><circle cx="283.1" cy="232.0" r="2.6" fill="none" stroke="#000" stroke-width="1.45"/><circle cx="296.4" cy="232.0" r="2.6" fill="none" stroke="#000" stroke-width="1.45"/><circle cx="309.7" cy="232.0" r="2.6" fill="none" stroke="#000" stroke-width="1.45"/></g>
<g><polygon points="54.2,224.3 54.2,232.0 62.0,232.0" fill="#000" stroke="#000" stroke-width="0.3" stroke-linejoin="miter"/><polygon points="67.5,224.3 67.5,232.0 75.2,232.0" fill="#000" stroke="#000" stroke-width="0.3" stroke-linejoin="miter"/><polygon points="80.8,224.3 80.8,232.0 88.5,232.0" fill="#000" stroke="#000" stroke-width="0.3" stroke-linejoin="miter"/><polygon points="94.2,224.3 94.2,232.0 101.8,232.0" fill="#000" stroke="#000" stroke-width="0.3" stroke-linejoin="miter"/><polygon points="107.5,224.3 107.5,232.0 115.1,232.0" fill="#000" stroke="#000" stroke-width="0.3" stroke-linejoin="miter"/><polygon points="120.8,224.3 120.8,232.0 128.4,232.0" fill="#000" stroke="#000" stroke-width="0.3" stroke-linejoin="miter"/><polygon points="134.1,224.3 134.1,232.0 141.8,232.0" fill="#000" stroke="#000" stroke-width="0.3" stroke-linejoin="miter"/><polygon points="147.4,224.3 147.4,232.0 155.1,232.0" fill="#000" stroke="#000" stroke-width="0.3" stroke-linejoin="miter"/><polygon points="160.7,224.3 160.7,232.0 168.3,232.0" fill="#000" stroke="#000" stroke-width="0.3" stroke-linejoin="miter"/><polygon points="173.9,224.3 173.9,232.0 181.6,232.0" fill="#000" stroke="#000" stroke-width="0.3" stroke-linejoin="miter"/><polygon points="187.2,224.3 187.2,232.0 194.9,232.0" fill="#000" stroke="#000" stroke-width="0.3" stroke-linejoin="miter"/><polygon points="200.6,225.0 200.6,232.7 208.2,232.7" fill="#000" stroke="#000" stroke-width="0.3" stroke-linejoin="miter"/><polygon points="213.9,225.8 213.9,233.4 221.6,233.4" fill="#000" stroke="#000" stroke-width="0.3" stroke-linejoin="miter"/><polygon points="227.2,226.6 227.2,234.2 234.8,234.2" fill="#000" stroke="#000" stroke-width="0.3" stroke-linejoin="miter"/><polygon points="240.5,227.1 240.5,234.8 248.2,234.8" fill="#000" stroke="#000" stroke-width="0.3" stroke-linejoin="miter"/><polygon points="253.8,227.3 253.8,235.0 261.5,235.0" fill="#000" stroke="#000" stroke-width="0.3" stroke-linejoin="miter"/><polygon points="267.1,227.6 267.1,235.2 274.8,235.2" fill="#000" stroke="#000" stroke-width="0.3" stroke-linejoin="miter"/><polygon points="280.4,227.7 280.4,235.3 288.1,235.3" fill="#000" stroke="#000" stroke-width="0.3" stroke-linejoin="miter"/><polygon points="293.6,227.8 293.6,235.4 301.4,235.4" fill="#000" stroke="#000" stroke-width="0.3" stroke-linejoin="miter"/><polygon points="307.0,227.8 307.0,235.4 314.7,235.4" fill="#000" stroke="#000" stroke-width="0.3" stroke-linejoin="miter"/></g>
<g><polygon points="54.4,224.8 57.0,222.2 59.6,224.8 57.0,227.4" fill="none" stroke="#000" stroke-width="1.75" stroke-linejoin="miter"/><polygon points="67.7,224.8 70.3,222.2 72.9,224.8 70.3,227.4" fill="none" stroke="#000" stroke-width="1.75" stroke-linejoin="miter"/><polygon points="81.0,224.8 83.6,222.2 86.2,224.8 83.6,227.4" fill="none" stroke="#000" stroke-width="1.75" stroke-linejoin="miter"/><polygon points="94.3,224.8 96.9,222.2 99.5,224.8 96.9,227.4" fill="none" stroke="#000" stroke-width="1.75" stroke-linejoin="miter"/><polygon points="107.6,224.8 110.2,222.2 112.8,224.8 110.2,227.4" fill="none" stroke="#000" stroke-width="1.75" stroke-linejoin="miter"/><polygon points="120.9,224.8 123.5,222.2 126.1,224.8 123.5,227.4" fill="none" stroke="#000" stroke-width="1.75" stroke-linejoin="miter"/><polygon points="134.2,224.8 136.8,222.2 139.4,224.8 136.8,227.4" fill="none" stroke="#000" stroke-width="1.75" stroke-linejoin="miter"/><polygon points="147.5,224.8 150.1,222.2 152.7,224.8 150.1,227.4" fill="none" stroke="#000" stroke-width="1.75" stroke-linejoin="miter"/><polygon points="160.8,224.8 163.4,222.2 166.0,224.8 163.4,227.4" fill="none" stroke="#000" stroke-width="1.75" stroke-linejoin="miter"/><polygon points="174.1,224.8 176.7,222.2 179.3,224.8 176.7,227.4" fill="none" stroke="#000" stroke-width="1.75" stroke-linejoin="miter"/><polygon points="187.4,224.8 190.0,222.2 192.6,224.8 190.0,227.4" fill="none" stroke="#000" stroke-width="1.75" stroke-linejoin="miter"/><polygon points="200.7,226.0 203.3,223.4 205.9,226.0 203.3,228.6" fill="none" stroke="#000" stroke-width="1.75" stroke-linejoin="miter"/><polygon points="214.0,227.6 216.6,225.0 219.2,227.6 216.6,230.2" fill="none" stroke="#000" stroke-width="1.75" stroke-linejoin="miter"/><polygon points="227.3,229.0 229.9,226.4 232.5,229.0 229.9,231.6" fill="none" stroke="#000" stroke-width="1.75" stroke-linejoin="miter"/><polygon points="240.6,229.8 243.2,227.2 245.8,229.8 243.2,232.4" fill="none" stroke="#000" stroke-width="1.75" stroke-linejoin="miter"/><polygon points="253.9,230.3 256.5,227.7 259.1,230.3 256.5,232.9" fill="none" stroke="#000" stroke-width="1.75" stroke-linejoin="miter"/><polygon points="267.2,230.6 269.8,228.0 272.4,230.6 269.8,233.2" fill="none" stroke="#000" stroke-width="1.75" stroke-linejoin="miter"/><polygon points="280.5,230.8 283.1,228.2 285.7,230.8 283.1,233.4" fill="none" stroke="#000" stroke-width="1.75" stroke-linejoin="miter"/><polygon points="293.8,230.9 296.4,228.3 299.0,230.9 296.4,233.5" fill="none" stroke="#000" stroke-width="1.75" stroke-linejoin="miter"/><polygon points="307.1,231.0 309.7,228.4 312.3,231.0 309.7,233.6" fill="none" stroke="#000" stroke-width="1.75" stroke-linejoin="miter"/></g>
<g><polygon points="53.5,215.6 57.0,212.0 60.5,215.6 57.0,219.2" fill="#000" stroke="#000" stroke-width="0.4" stroke-linejoin="miter"/><polygon points="66.8,215.6 70.3,212.0 73.8,215.6 70.3,219.2" fill="#000" stroke="#000" stroke-width="0.4" stroke-linejoin="miter"/><polygon points="80.0,215.6 83.6,212.0 87.1,215.6 83.6,219.2" fill="#000" stroke="#000" stroke-width="0.4" stroke-linejoin="miter"/><polygon points="93.4,215.6 96.9,212.0 100.5,215.6 96.9,219.2" fill="#000" stroke="#000" stroke-width="0.4" stroke-linejoin="miter"/><polygon points="106.7,215.6 110.2,212.0 113.8,215.6 110.2,219.2" fill="#000" stroke="#000" stroke-width="0.4" stroke-linejoin="miter"/><polygon points="120.0,215.6 123.5,212.0 127.0,215.6 123.5,219.2" fill="#000" stroke="#000" stroke-width="0.4" stroke-linejoin="miter"/><polygon points="133.2,215.6 136.8,212.0 140.4,215.6 136.8,219.2" fill="#000" stroke="#000" stroke-width="0.4" stroke-linejoin="miter"/><polygon points="146.6,215.6 150.1,212.0 153.7,215.6 150.1,219.2" fill="#000" stroke="#000" stroke-width="0.4" stroke-linejoin="miter"/><polygon points="159.8,215.7 163.4,212.1 167.0,215.7 163.4,219.2" fill="#000" stroke="#000" stroke-width="0.4" stroke-linejoin="miter"/><polygon points="173.1,215.9 176.7,212.3 180.2,215.9 176.7,219.5" fill="#000" stroke="#000" stroke-width="0.4" stroke-linejoin="miter"/><polygon points="186.4,216.2 190.0,212.6 193.6,216.2 190.0,219.8" fill="#000" stroke="#000" stroke-width="0.4" stroke-linejoin="miter"/><polygon points="199.8,221.0 203.3,217.4 206.9,221.0 203.3,224.6" fill="#000" stroke="#000" stroke-width="0.4" stroke-linejoin="miter"/><polygon points="213.1,224.6 216.6,221.0 220.2,224.6 216.6,228.2" fill="#000" stroke="#000" stroke-width="0.4" stroke-linejoin="miter"/><polygon points="226.3,227.2 229.9,223.6 233.5,227.2 229.9,230.8" fill="#000" stroke="#000" stroke-width="0.4" stroke-linejoin="miter"/><polygon points="239.7,228.4 243.2,224.8 246.8,228.4 243.2,232.0" fill="#000" stroke="#000" stroke-width="0.4" stroke-linejoin="miter"/><polygon points="252.9,229.1 256.5,225.5 260.1,229.1 256.5,232.7" fill="#000" stroke="#000" stroke-width="0.4" stroke-linejoin="miter"/><polygon points="266.2,229.5 269.8,225.9 273.4,229.5 269.8,233.1" fill="#000" stroke="#000" stroke-width="0.4" stroke-linejoin="miter"/><polygon points="279.6,229.8 283.1,226.2 286.7,229.8 283.1,233.4" fill="#000" stroke="#000" stroke-width="0.4" stroke-linejoin="miter"/><polygon points="292.8,229.9 296.4,226.3 299.9,229.9 296.4,233.5" fill="#000" stroke="#000" stroke-width="0.4" stroke-linejoin="miter"/><polygon points="306.2,230.0 309.7,226.4 313.3,230.0 309.7,233.6" fill="#000" stroke="#000" stroke-width="0.4" stroke-linejoin="miter"/></g>
<g><polygon points="54.1,205.8 57.0,200.5 59.9,205.8" fill="none" stroke="#000" stroke-width="1.5" stroke-linejoin="miter"/><polygon points="67.4,205.8 70.3,200.5 73.2,205.8" fill="none" stroke="#000" stroke-width="1.5" stroke-linejoin="miter"/><polygon points="80.7,205.8 83.6,200.5 86.5,205.8" fill="none" stroke="#000" stroke-width="1.5" stroke-linejoin="miter"/><polygon points="94.0,205.8 96.9,200.5 99.8,205.8" fill="none" stroke="#000" stroke-width="1.5" stroke-linejoin="miter"/><polygon points="107.3,205.8 110.2,200.5 113.1,205.8" fill="none" stroke="#000" stroke-width="1.5" stroke-linejoin="miter"/><polygon points="120.6,205.8 123.5,200.5 126.4,205.8" fill="none" stroke="#000" stroke-width="1.5" stroke-linejoin="miter"/><polygon points="133.9,205.8 136.8,200.5 139.7,205.8" fill="none" stroke="#000" stroke-width="1.5" stroke-linejoin="miter"/><polygon points="147.2,206.0 150.1,200.7 153.0,206.0" fill="none" stroke="#000" stroke-width="1.5" stroke-linejoin="miter"/><polygon points="160.5,206.4 163.4,201.1 166.3,206.4" fill="none" stroke="#000" stroke-width="1.5" stroke-linejoin="miter"/><polygon points="173.8,207.4 176.7,202.1 179.6,207.4" fill="none" stroke="#000" stroke-width="1.5" stroke-linejoin="miter"/><polygon points="187.1,209.4 190.0,204.1 192.9,209.4" fill="none" stroke="#000" stroke-width="1.5" stroke-linejoin="miter"/><polygon points="200.4,219.8 203.3,214.5 206.2,219.8" fill="none" stroke="#000" stroke-width="1.5" stroke-linejoin="miter"/><polygon points="213.7,225.4 216.6,220.1 219.5,225.4" fill="none" stroke="#000" stroke-width="1.5" stroke-linejoin="miter"/><polygon points="227.0,228.4 229.9,223.1 232.8,228.4" fill="none" stroke="#000" stroke-width="1.5" stroke-linejoin="miter"/><polygon points="240.3,229.8 243.2,224.5 246.1,229.8" fill="none" stroke="#000" stroke-width="1.5" stroke-linejoin="miter"/><polygon points="253.6,230.6 256.5,225.3 259.4,230.6" fill="none" stroke="#000" stroke-width="1.5" stroke-linejoin="miter"/><polygon points="266.9,231.1 269.8,225.8 272.7,231.1" fill="none" stroke="#000" stroke-width="1.5" stroke-linejoin="miter"/><polygon points="280.2,231.4 283.1,226.1 286.0,231.4" fill="none" stroke="#000" stroke-width="1.5" stroke-linejoin="miter"/><polygon points="293.5,231.6 296.4,226.3 299.3,231.6" fill="none" stroke="#000" stroke-width="1.5" stroke-linejoin="miter"/><polygon points="306.8,231.7 309.7,226.4 312.6,231.7" fill="none" stroke="#000" stroke-width="1.5" stroke-linejoin="miter"/></g>
<g><circle cx="57.0" cy="190.0" r="3.3" fill="#000" stroke="#000" stroke-width="0.6"/><circle cx="70.3" cy="190.0" r="3.3" fill="#000" stroke="#000" stroke-width="0.6"/><circle cx="83.6" cy="190.0" r="3.3" fill="#000" stroke="#000" stroke-width="0.6"/><circle cx="96.9" cy="190.0" r="3.3" fill="#000" stroke="#000" stroke-width="0.6"/><circle cx="110.2" cy="190.2" r="3.3" fill="#000" stroke="#000" stroke-width="0.6"/><circle cx="123.5" cy="190.3" r="3.3" fill="#000" stroke="#000" stroke-width="0.6"/><circle cx="136.8" cy="190.3" r="3.3" fill="#000" stroke="#000" stroke-width="0.6"/><circle cx="150.1" cy="190.6" r="3.3" fill="#000" stroke="#000" stroke-width="0.6"/><circle cx="163.4" cy="191.3" r="3.3" fill="#000" stroke="#000" stroke-width="0.6"/><circle cx="176.7" cy="193.3" r="3.3" fill="#000" stroke="#000" stroke-width="0.6"/><circle cx="190.0" cy="198.0" r="3.3" fill="#000" stroke="#000" stroke-width="0.6"/><circle cx="203.3" cy="214.0" r="3.3" fill="#000" stroke="#000" stroke-width="0.6"/><circle cx="216.6" cy="220.8" r="3.3" fill="#000" stroke="#000" stroke-width="0.6"/><circle cx="229.9" cy="224.0" r="3.3" fill="#000" stroke="#000" stroke-width="0.6"/><circle cx="243.2" cy="225.5" r="3.3" fill="#000" stroke="#000" stroke-width="0.6"/><circle cx="256.5" cy="226.4" r="3.3" fill="#000" stroke="#000" stroke-width="0.6"/><circle cx="269.8" cy="227.0" r="3.3" fill="#000" stroke="#000" stroke-width="0.6"/><circle cx="283.1" cy="227.3" r="3.3" fill="#000" stroke="#000" stroke-width="0.6"/><circle cx="296.4" cy="227.5" r="3.3" fill="#000" stroke="#000" stroke-width="0.6"/><circle cx="309.7" cy="227.6" r="3.3" fill="#000" stroke="#000" stroke-width="0.6"/></g>
<g><polygon points="59.7,171.7 54.4,174.5 59.7,177.3" fill="none" stroke="#000" stroke-width="1.5" stroke-linejoin="miter"/><polygon points="73.0,171.7 67.7,174.5 73.0,177.3" fill="none" stroke="#000" stroke-width="1.5" stroke-linejoin="miter"/><polygon points="86.3,171.7 81.0,174.5 86.3,177.3" fill="none" stroke="#000" stroke-width="1.5" stroke-linejoin="miter"/><polygon points="99.6,171.9 94.3,174.7 99.6,177.5" fill="none" stroke="#000" stroke-width="1.5" stroke-linejoin="miter"/><polygon points="112.9,172.4 107.6,175.2 112.9,178.0" fill="none" stroke="#000" stroke-width="1.5" stroke-linejoin="miter"/><polygon points="126.2,172.6 120.9,175.4 126.2,178.2" fill="none" stroke="#000" stroke-width="1.5" stroke-linejoin="miter"/><polygon points="139.5,173.2 134.2,176.0 139.5,178.8" fill="none" stroke="#000" stroke-width="1.5" stroke-linejoin="miter"/><polygon points="152.8,174.5 147.5,177.3 152.8,180.1" fill="none" stroke="#000" stroke-width="1.5" stroke-linejoin="miter"/><polygon points="166.1,176.0 160.8,178.8 166.1,181.6" fill="none" stroke="#000" stroke-width="1.5" stroke-linejoin="miter"/><polygon points="179.4,179.0 174.1,181.8 179.4,184.6" fill="none" stroke="#000" stroke-width="1.5" stroke-linejoin="miter"/><polygon points="192.7,189.7 187.4,192.5 192.7,195.3" fill="none" stroke="#000" stroke-width="1.5" stroke-linejoin="miter"/><polygon points="206.0,208.7 200.7,211.5 206.0,214.3" fill="none" stroke="#000" stroke-width="1.5" stroke-linejoin="miter"/><polygon points="219.3,216.2 214.0,219.0 219.3,221.8" fill="none" stroke="#000" stroke-width="1.5" stroke-linejoin="miter"/><polygon points="232.6,219.6 227.3,222.4 232.6,225.2" fill="none" stroke="#000" stroke-width="1.5" stroke-linejoin="miter"/><polygon points="245.9,221.2 240.6,224.0 245.9,226.8" fill="none" stroke="#000" stroke-width="1.5" stroke-linejoin="miter"/><polygon points="259.2,222.2 253.9,225.0 259.2,227.8" fill="none" stroke="#000" stroke-width="1.5" stroke-linejoin="miter"/><polygon points="272.5,222.8 267.2,225.6 272.5,228.4" fill="none" stroke="#000" stroke-width="1.5" stroke-linejoin="miter"/><polygon points="285.8,223.1 280.5,225.9 285.8,228.7" fill="none" stroke="#000" stroke-width="1.5" stroke-linejoin="miter"/><polygon points="299.1,223.3 293.8,226.1 299.1,228.9" fill="none" stroke="#000" stroke-width="1.5" stroke-linejoin="miter"/><polygon points="312.4,223.4 307.1,226.2 312.4,229.0" fill="none" stroke="#000" stroke-width="1.5" stroke-linejoin="miter"/></g>
<g><rect x="54.2" y="160.4" width="5.6" height="5.6" fill="none" stroke="#000" stroke-width="1.5"/><line x1="54.2" y1="166.0" x2="59.8" y2="160.4" stroke="#000" stroke-width="1.5"/><rect x="67.5" y="160.4" width="5.6" height="5.6" fill="none" stroke="#000" stroke-width="1.5"/><line x1="67.5" y1="166.0" x2="73.1" y2="160.4" stroke="#000" stroke-width="1.5"/><rect x="80.8" y="160.6" width="5.6" height="5.6" fill="none" stroke="#000" stroke-width="1.5"/><line x1="80.8" y1="166.2" x2="86.4" y2="160.6" stroke="#000" stroke-width="1.5"/><rect x="94.1" y="161.0" width="5.6" height="5.6" fill="none" stroke="#000" stroke-width="1.5"/><line x1="94.1" y1="166.6" x2="99.7" y2="161.0" stroke="#000" stroke-width="1.5"/><rect x="107.4" y="161.6" width="5.6" height="5.6" fill="none" stroke="#000" stroke-width="1.5"/><line x1="107.4" y1="167.2" x2="113.0" y2="161.6" stroke="#000" stroke-width="1.5"/><rect x="120.7" y="162.5" width="5.6" height="5.6" fill="none" stroke="#000" stroke-width="1.5"/><line x1="120.7" y1="168.1" x2="126.3" y2="162.5" stroke="#000" stroke-width="1.5"/><rect x="134.0" y="163.7" width="5.6" height="5.6" fill="none" stroke="#000" stroke-width="1.5"/><line x1="134.0" y1="169.3" x2="139.6" y2="163.7" stroke="#000" stroke-width="1.5"/><rect x="147.3" y="165.9" width="5.6" height="5.6" fill="none" stroke="#000" stroke-width="1.5"/><line x1="147.3" y1="171.5" x2="152.9" y2="165.9" stroke="#000" stroke-width="1.5"/><rect x="160.6" y="168.7" width="5.6" height="5.6" fill="none" stroke="#000" stroke-width="1.5"/><line x1="160.6" y1="174.3" x2="166.2" y2="168.7" stroke="#000" stroke-width="1.5"/><rect x="173.9" y="175.2" width="5.6" height="5.6" fill="none" stroke="#000" stroke-width="1.5"/><line x1="173.9" y1="180.8" x2="179.5" y2="175.2" stroke="#000" stroke-width="1.5"/><rect x="187.2" y="187.7" width="5.6" height="5.6" fill="none" stroke="#000" stroke-width="1.5"/><line x1="187.2" y1="193.3" x2="192.8" y2="187.7" stroke="#000" stroke-width="1.5"/><rect x="200.5" y="206.7" width="5.6" height="5.6" fill="none" stroke="#000" stroke-width="1.5"/><line x1="200.5" y1="212.3" x2="206.1" y2="206.7" stroke="#000" stroke-width="1.5"/><rect x="213.8" y="214.4" width="5.6" height="5.6" fill="none" stroke="#000" stroke-width="1.5"/><line x1="213.8" y1="220.0" x2="219.4" y2="214.4" stroke="#000" stroke-width="1.5"/><rect x="227.1" y="218.0" width="5.6" height="5.6" fill="none" stroke="#000" stroke-width="1.5"/><line x1="227.1" y1="223.6" x2="232.7" y2="218.0" stroke="#000" stroke-width="1.5"/><rect x="240.4" y="219.7" width="5.6" height="5.6" fill="none" stroke="#000" stroke-width="1.5"/><line x1="240.4" y1="225.3" x2="246.0" y2="219.7" stroke="#000" stroke-width="1.5"/><rect x="253.7" y="220.8" width="5.6" height="5.6" fill="none" stroke="#000" stroke-width="1.5"/><line x1="253.7" y1="226.4" x2="259.3" y2="220.8" stroke="#000" stroke-width="1.5"/><rect x="267.0" y="221.5" width="5.6" height="5.6" fill="none" stroke="#000" stroke-width="1.5"/><line x1="267.0" y1="227.1" x2="272.6" y2="221.5" stroke="#000" stroke-width="1.5"/><rect x="280.3" y="221.8" width="5.6" height="5.6" fill="none" stroke="#000" stroke-width="1.5"/><line x1="280.3" y1="227.4" x2="285.9" y2="221.8" stroke="#000" stroke-width="1.5"/><rect x="293.6" y="222.0" width="5.6" height="5.6" fill="none" stroke="#000" stroke-width="1.5"/><line x1="293.6" y1="227.6" x2="299.2" y2="222.0" stroke="#000" stroke-width="1.5"/><rect x="306.9" y="222.1" width="5.6" height="5.6" fill="none" stroke="#000" stroke-width="1.5"/><line x1="306.9" y1="227.7" x2="312.5" y2="222.1" stroke="#000" stroke-width="1.5"/></g>
<g><polygon points="52.9,152.5 57.0,148.8 61.1,152.5 57.0,156.2" fill="#000" stroke="#000" stroke-width="0.4" stroke-linejoin="miter"/><polygon points="66.2,152.5 70.3,148.8 74.4,152.5 70.3,156.2" fill="#000" stroke="#000" stroke-width="0.4" stroke-linejoin="miter"/><polygon points="79.5,153.1 83.6,149.4 87.7,153.1 83.6,156.8" fill="#000" stroke="#000" stroke-width="0.4" stroke-linejoin="miter"/><polygon points="92.8,154.0 96.9,150.3 101.0,154.0 96.9,157.7" fill="#000" stroke="#000" stroke-width="0.4" stroke-linejoin="miter"/><polygon points="106.1,155.3 110.2,151.6 114.3,155.3 110.2,159.0" fill="#000" stroke="#000" stroke-width="0.4" stroke-linejoin="miter"/><polygon points="119.4,156.3 123.5,152.6 127.6,156.3 123.5,160.0" fill="#000" stroke="#000" stroke-width="0.4" stroke-linejoin="miter"/><polygon points="132.7,158.7 136.8,155.0 140.9,158.7 136.8,162.4" fill="#000" stroke="#000" stroke-width="0.4" stroke-linejoin="miter"/><polygon points="146.0,161.7 150.1,158.0 154.2,161.7 150.1,165.4" fill="#000" stroke="#000" stroke-width="0.4" stroke-linejoin="miter"/><polygon points="159.3,166.0 163.4,162.3 167.5,166.0 163.4,169.7" fill="#000" stroke="#000" stroke-width="0.4" stroke-linejoin="miter"/><polygon points="172.6,172.0 176.7,168.3 180.8,172.0 176.7,175.7" fill="#000" stroke="#000" stroke-width="0.4" stroke-linejoin="miter"/><polygon points="185.9,189.0 190.0,185.3 194.1,189.0 190.0,192.7" fill="#000" stroke="#000" stroke-width="0.4" stroke-linejoin="miter"/><polygon points="199.2,207.0 203.3,203.3 207.4,207.0 203.3,210.7" fill="#000" stroke="#000" stroke-width="0.4" stroke-linejoin="miter"/><polygon points="212.5,215.5 216.6,211.8 220.7,215.5 216.6,219.2" fill="#000" stroke="#000" stroke-width="0.4" stroke-linejoin="miter"/><polygon points="225.8,219.2 229.9,215.5 234.0,219.2 229.9,222.9" fill="#000" stroke="#000" stroke-width="0.4" stroke-linejoin="miter"/><polygon points="239.1,221.0 243.2,217.3 247.3,221.0 243.2,224.7" fill="#000" stroke="#000" stroke-width="0.4" stroke-linejoin="miter"/><polygon points="252.4,222.2 256.5,218.5 260.6,222.2 256.5,225.9" fill="#000" stroke="#000" stroke-width="0.4" stroke-linejoin="miter"/><polygon points="265.7,222.9 269.8,219.2 273.9,222.9 269.8,226.6" fill="#000" stroke="#000" stroke-width="0.4" stroke-linejoin="miter"/><polygon points="279.0,223.2 283.1,219.5 287.2,223.2 283.1,226.9" fill="#000" stroke="#000" stroke-width="0.4" stroke-linejoin="miter"/><polygon points="292.3,223.4 296.4,219.7 300.5,223.4 296.4,227.1" fill="#000" stroke="#000" stroke-width="0.4" stroke-linejoin="miter"/><polygon points="305.6,223.5 309.7,219.8 313.8,223.5 309.7,227.2" fill="#000" stroke="#000" stroke-width="0.4" stroke-linejoin="miter"/></g>
<g><polygon points="53.3,142.2 57.0,135.1 60.7,142.2" fill="#000" stroke="#000" stroke-width="0.4" stroke-linejoin="miter"/><polygon points="66.6,142.4 70.3,135.3 74.0,142.4" fill="#000" stroke="#000" stroke-width="0.4" stroke-linejoin="miter"/><polygon points="79.9,143.5 83.6,136.4 87.3,143.5" fill="#000" stroke="#000" stroke-width="0.4" stroke-linejoin="miter"/><polygon points="93.2,144.1 96.9,137.0 100.6,144.1" fill="#000" stroke="#000" stroke-width="0.4" stroke-linejoin="miter"/><polygon points="106.5,146.0 110.2,138.9 113.9,146.0" fill="#000" stroke="#000" stroke-width="0.4" stroke-linejoin="miter"/><polygon points="119.8,149.0 123.5,141.9 127.2,149.0" fill="#000" stroke="#000" stroke-width="0.4" stroke-linejoin="miter"/><polygon points="133.1,151.4 136.8,144.3 140.5,151.4" fill="#000" stroke="#000" stroke-width="0.4" stroke-linejoin="miter"/><polygon points="146.4,155.8 150.1,148.7 153.8,155.8" fill="#000" stroke="#000" stroke-width="0.4" stroke-linejoin="miter"/><polygon points="159.7,161.7 163.4,154.6 167.1,161.7" fill="#000" stroke="#000" stroke-width="0.4" stroke-linejoin="miter"/><polygon points="173.0,171.7 176.7,164.6 180.4,171.7" fill="#000" stroke="#000" stroke-width="0.4" stroke-linejoin="miter"/><polygon points="186.3,189.2 190.0,182.1 193.7,189.2" fill="#000" stroke="#000" stroke-width="0.4" stroke-linejoin="miter"/><polygon points="199.6,207.2 203.3,200.1 207.0,207.2" fill="#000" stroke="#000" stroke-width="0.4" stroke-linejoin="miter"/><polygon points="212.9,217.0 216.6,209.9 220.3,217.0" fill="#000" stroke="#000" stroke-width="0.4" stroke-linejoin="miter"/><polygon points="226.2,220.8 229.9,213.7 233.6,220.8" fill="#000" stroke="#000" stroke-width="0.4" stroke-linejoin="miter"/><polygon points="239.5,222.7 243.2,215.6 246.9,222.7" fill="#000" stroke="#000" stroke-width="0.4" stroke-linejoin="miter"/><polygon points="252.8,224.0 256.5,216.9 260.2,224.0" fill="#000" stroke="#000" stroke-width="0.4" stroke-linejoin="miter"/><polygon points="266.1,224.7 269.8,217.6 273.5,224.7" fill="#000" stroke="#000" stroke-width="0.4" stroke-linejoin="miter"/><polygon points="279.4,225.0 283.1,217.9 286.8,225.0" fill="#000" stroke="#000" stroke-width="0.4" stroke-linejoin="miter"/><polygon points="292.7,225.2 296.4,218.1 300.1,225.2" fill="#000" stroke="#000" stroke-width="0.4" stroke-linejoin="miter"/><polygon points="306.0,225.3 309.7,218.2 313.4,225.3" fill="#000" stroke="#000" stroke-width="0.4" stroke-linejoin="miter"/></g>
<g><polygon points="53.2,122.8 57.0,130.0 60.8,122.8" fill="#000" stroke="#000" stroke-width="0.4" stroke-linejoin="miter"/><polygon points="66.5,123.6 70.3,130.8 74.1,123.6" fill="#000" stroke="#000" stroke-width="0.4" stroke-linejoin="miter"/><polygon points="79.8,125.0 83.6,132.2 87.4,125.0" fill="#000" stroke="#000" stroke-width="0.4" stroke-linejoin="miter"/><polygon points="93.1,126.9 96.9,134.1 100.7,126.9" fill="#000" stroke="#000" stroke-width="0.4" stroke-linejoin="miter"/><polygon points="106.4,129.6 110.2,136.8 114.0,129.6" fill="#000" stroke="#000" stroke-width="0.4" stroke-linejoin="miter"/><polygon points="119.7,133.2 123.5,140.4 127.3,133.2" fill="#000" stroke="#000" stroke-width="0.4" stroke-linejoin="miter"/><polygon points="133.0,138.7 136.8,145.9 140.6,138.7" fill="#000" stroke="#000" stroke-width="0.4" stroke-linejoin="miter"/><polygon points="146.3,144.4 150.1,151.6 153.9,144.4" fill="#000" stroke="#000" stroke-width="0.4" stroke-linejoin="miter"/><polygon points="159.6,151.9 163.4,159.1 167.2,151.9" fill="#000" stroke="#000" stroke-width="0.4" stroke-linejoin="miter"/><polygon points="172.9,162.4 176.7,169.6 180.5,162.4" fill="#000" stroke="#000" stroke-width="0.4" stroke-linejoin="miter"/><polygon points="186.2,179.9 190.0,187.1 193.8,179.9" fill="#000" stroke="#000" stroke-width="0.4" stroke-linejoin="miter"/><polygon points="199.5,197.9 203.3,205.1 207.1,197.9" fill="#000" stroke="#000" stroke-width="0.4" stroke-linejoin="miter"/><polygon points="212.8,208.4 216.6,215.6 220.4,208.4" fill="#000" stroke="#000" stroke-width="0.4" stroke-linejoin="miter"/><polygon points="226.1,212.4 229.9,219.6 233.7,212.4" fill="#000" stroke="#000" stroke-width="0.4" stroke-linejoin="miter"/><polygon points="239.4,214.4 243.2,221.6 247.0,214.4" fill="#000" stroke="#000" stroke-width="0.4" stroke-linejoin="miter"/><polygon points="252.7,215.7 256.5,222.9 260.3,215.7" fill="#000" stroke="#000" stroke-width="0.4" stroke-linejoin="miter"/><polygon points="266.0,216.4 269.8,223.6 273.6,216.4" fill="#000" stroke="#000" stroke-width="0.4" stroke-linejoin="miter"/><polygon points="279.3,216.7 283.1,223.9 286.9,216.7" fill="#000" stroke="#000" stroke-width="0.4" stroke-linejoin="miter"/><polygon points="292.6,216.9 296.4,224.1 300.2,216.9" fill="#000" stroke="#000" stroke-width="0.4" stroke-linejoin="miter"/><polygon points="305.9,217.0 309.7,224.2 313.5,217.0" fill="#000" stroke="#000" stroke-width="0.4" stroke-linejoin="miter"/></g>
<g><circle cx="57.0" cy="116.5" r="2.95" fill="#fff" stroke="#000" stroke-width="1.25"/><circle cx="57.0" cy="116.5" r="1.0" fill="#000"/><circle cx="70.3" cy="118.6" r="2.95" fill="#fff" stroke="#000" stroke-width="1.25"/><circle cx="70.3" cy="118.6" r="1.0" fill="#000"/><circle cx="83.6" cy="121.0" r="2.95" fill="#fff" stroke="#000" stroke-width="1.25"/><circle cx="83.6" cy="121.0" r="1.0" fill="#000"/><circle cx="96.9" cy="124.6" r="2.95" fill="#fff" stroke="#000" stroke-width="1.25"/><circle cx="96.9" cy="124.6" r="1.0" fill="#000"/><circle cx="110.2" cy="128.2" r="2.95" fill="#fff" stroke="#000" stroke-width="1.25"/><circle cx="110.2" cy="128.2" r="1.0" fill="#000"/><circle cx="123.5" cy="132.2" r="2.95" fill="#fff" stroke="#000" stroke-width="1.25"/><circle cx="123.5" cy="132.2" r="1.0" fill="#000"/><circle cx="136.8" cy="137.3" r="2.95" fill="#fff" stroke="#000" stroke-width="1.25"/><circle cx="136.8" cy="137.3" r="1.0" fill="#000"/><circle cx="150.1" cy="143.4" r="2.95" fill="#fff" stroke="#000" stroke-width="1.25"/><circle cx="150.1" cy="143.4" r="1.0" fill="#000"/><circle cx="163.4" cy="151.0" r="2.95" fill="#fff" stroke="#000" stroke-width="1.25"/><circle cx="163.4" cy="151.0" r="1.0" fill="#000"/><circle cx="176.7" cy="162.0" r="2.95" fill="#fff" stroke="#000" stroke-width="1.25"/><circle cx="176.7" cy="162.0" r="1.0" fill="#000"/><circle cx="190.0" cy="178.0" r="2.95" fill="#fff" stroke="#000" stroke-width="1.25"/><circle cx="190.0" cy="178.0" r="1.0" fill="#000"/><circle cx="203.3" cy="197.0" r="2.95" fill="#fff" stroke="#000" stroke-width="1.25"/><circle cx="203.3" cy="197.0" r="1.0" fill="#000"/><circle cx="216.6" cy="208.2" r="2.95" fill="#fff" stroke="#000" stroke-width="1.25"/><circle cx="216.6" cy="208.2" r="1.0" fill="#000"/><circle cx="229.9" cy="212.6" r="2.95" fill="#fff" stroke="#000" stroke-width="1.25"/><circle cx="229.9" cy="212.6" r="1.0" fill="#000"/><circle cx="243.2" cy="215.1" r="2.95" fill="#fff" stroke="#000" stroke-width="1.25"/><circle cx="243.2" cy="215.1" r="1.0" fill="#000"/><circle cx="256.5" cy="216.7" r="2.95" fill="#fff" stroke="#000" stroke-width="1.25"/><circle cx="256.5" cy="216.7" r="1.0" fill="#000"/><circle cx="269.8" cy="217.5" r="2.95" fill="#fff" stroke="#000" stroke-width="1.25"/><circle cx="269.8" cy="217.5" r="1.0" fill="#000"/><circle cx="283.1" cy="217.9" r="2.95" fill="#fff" stroke="#000" stroke-width="1.25"/><circle cx="283.1" cy="217.9" r="1.0" fill="#000"/><circle cx="296.4" cy="217.9" r="2.95" fill="#fff" stroke="#000" stroke-width="1.25"/><circle cx="296.4" cy="217.9" r="1.0" fill="#000"/><circle cx="309.7" cy="217.9" r="2.95" fill="#fff" stroke="#000" stroke-width="1.25"/><circle cx="309.7" cy="217.9" r="1.0" fill="#000"/></g>
<g><polygon points="54.4,96.5 57.0,94.3 59.6,96.5 57.0,98.7" fill="#000" stroke="#000" stroke-width="0.6" stroke-linejoin="miter"/><path d="M54.1 96.5H59.9M57.0 94.0V99.0" stroke="#000" stroke-width="1.1"/><polygon points="67.7,99.3 70.3,97.1 72.9,99.3 70.3,101.5" fill="#000" stroke="#000" stroke-width="0.6" stroke-linejoin="miter"/><path d="M67.4 99.3H73.2M70.3 96.8V101.8" stroke="#000" stroke-width="1.1"/><polygon points="81.0,102.8 83.6,100.6 86.2,102.8 83.6,105.0" fill="#000" stroke="#000" stroke-width="0.6" stroke-linejoin="miter"/><path d="M80.7 102.8H86.5M83.6 100.3V105.3" stroke="#000" stroke-width="1.1"/><polygon points="94.3,106.8 96.9,104.6 99.5,106.8 96.9,109.0" fill="#000" stroke="#000" stroke-width="0.6" stroke-linejoin="miter"/><path d="M94.0 106.8H99.8M96.9 104.3V109.3" stroke="#000" stroke-width="1.1"/><polygon points="107.6,111.8 110.2,109.6 112.8,111.8 110.2,114.0" fill="#000" stroke="#000" stroke-width="0.6" stroke-linejoin="miter"/><path d="M107.3 111.8H113.1M110.2 109.3V114.3" stroke="#000" stroke-width="1.1"/><polygon points="120.9,117.3 123.5,115.1 126.1,117.3 123.5,119.5" fill="#000" stroke="#000" stroke-width="0.6" stroke-linejoin="miter"/><path d="M120.6 117.3H126.4M123.5 114.8V119.8" stroke="#000" stroke-width="1.1"/><polygon points="134.2,123.8 136.8,121.6 139.4,123.8 136.8,126.0" fill="#000" stroke="#000" stroke-width="0.6" stroke-linejoin="miter"/><path d="M133.9 123.8H139.7M136.8 121.3V126.3" stroke="#000" stroke-width="1.1"/><polygon points="147.5,131.8 150.1,129.6 152.7,131.8 150.1,134.0" fill="#000" stroke="#000" stroke-width="0.6" stroke-linejoin="miter"/><path d="M147.2 131.8H153.0M150.1 129.3V134.3" stroke="#000" stroke-width="1.1"/><polygon points="160.8,140.8 163.4,138.6 166.0,140.8 163.4,143.0" fill="#000" stroke="#000" stroke-width="0.6" stroke-linejoin="miter"/><path d="M160.5 140.8H166.3M163.4 138.3V143.3" stroke="#000" stroke-width="1.1"/><polygon points="174.1,150.8 176.7,148.6 179.3,150.8 176.7,153.0" fill="#000" stroke="#000" stroke-width="0.6" stroke-linejoin="miter"/><path d="M173.8 150.8H179.6M176.7 148.3V153.3" stroke="#000" stroke-width="1.1"/><polygon points="187.4,166.0 190.0,163.8 192.6,166.0 190.0,168.2" fill="#000" stroke="#000" stroke-width="0.6" stroke-linejoin="miter"/><path d="M187.1 166.0H192.9M190.0 163.5V168.5" stroke="#000" stroke-width="1.1"/><polygon points="200.7,182.3 203.3,180.1 205.9,182.3 203.3,184.5" fill="#000" stroke="#000" stroke-width="0.6" stroke-linejoin="miter"/><path d="M200.4 182.3H206.2M203.3 179.8V184.8" stroke="#000" stroke-width="1.1"/><polygon points="214.0,195.9 216.6,193.7 219.2,195.9 216.6,198.1" fill="#000" stroke="#000" stroke-width="0.6" stroke-linejoin="miter"/><path d="M213.7 195.9H219.5M216.6 193.4V198.4" stroke="#000" stroke-width="1.1"/><polygon points="227.3,203.9 229.9,201.7 232.5,203.9 229.9,206.1" fill="#000" stroke="#000" stroke-width="0.6" stroke-linejoin="miter"/><path d="M227.0 203.9H232.8M229.9 201.4V206.4" stroke="#000" stroke-width="1.1"/><polygon points="240.6,208.3 243.2,206.1 245.8,208.3 243.2,210.5" fill="#000" stroke="#000" stroke-width="0.6" stroke-linejoin="miter"/><path d="M240.3 208.3H246.1M243.2 205.8V210.8" stroke="#000" stroke-width="1.1"/><polygon points="253.9,210.6 256.5,208.4 259.1,210.6 256.5,212.8" fill="#000" stroke="#000" stroke-width="0.6" stroke-linejoin="miter"/><path d="M253.6 210.6H259.4M256.5 208.1V213.1" stroke="#000" stroke-width="1.1"/><polygon points="267.2,211.9 269.8,209.7 272.4,211.9 269.8,214.1" fill="#000" stroke="#000" stroke-width="0.6" stroke-linejoin="miter"/><path d="M266.9 211.9H272.7M269.8 209.4V214.4" stroke="#000" stroke-width="1.1"/><polygon points="280.5,212.5 283.1,210.3 285.7,212.5 283.1,214.7" fill="#000" stroke="#000" stroke-width="0.6" stroke-linejoin="miter"/><path d="M280.2 212.5H286.0M283.1 210.0V215.0" stroke="#000" stroke-width="1.1"/><polygon points="293.8,212.8 296.4,210.6 299.0,212.8 296.4,215.0" fill="#000" stroke="#000" stroke-width="0.6" stroke-linejoin="miter"/><path d="M293.5 212.8H299.3M296.4 210.3V215.3" stroke="#000" stroke-width="1.1"/><polygon points="307.1,213.0 309.7,210.8 312.3,213.0 309.7,215.2" fill="#000" stroke="#000" stroke-width="0.6" stroke-linejoin="miter"/><path d="M306.8 213.0H312.6M309.7 210.5V215.5" stroke="#000" stroke-width="1.1"/></g>
<g><rect x="53.6" y="88.4" width="6.8" height="6.8" fill="none" stroke="#000" stroke-width="1.0"/><polygon points="57.6,88.4 60.4,88.4 60.4,95.2 53.6,95.2 53.6,92.4" fill="#000" stroke="#000" stroke-width="0.3" stroke-linejoin="miter"/><rect x="66.9" y="91.4" width="6.8" height="6.8" fill="none" stroke="#000" stroke-width="1.0"/><polygon points="70.9,91.4 73.7,91.4 73.7,98.2 66.9,98.2 66.9,95.4" fill="#000" stroke="#000" stroke-width="0.3" stroke-linejoin="miter"/><rect x="80.2" y="94.9" width="6.8" height="6.8" fill="none" stroke="#000" stroke-width="1.0"/><polygon points="84.2,94.9 87.0,94.9 87.0,101.7 80.2,101.7 80.2,98.9" fill="#000" stroke="#000" stroke-width="0.3" stroke-linejoin="miter"/><rect x="93.5" y="98.9" width="6.8" height="6.8" fill="none" stroke="#000" stroke-width="1.0"/><polygon points="97.5,98.9 100.3,98.9 100.3,105.7 93.5,105.7 93.5,102.9" fill="#000" stroke="#000" stroke-width="0.3" stroke-linejoin="miter"/><rect x="106.8" y="103.9" width="6.8" height="6.8" fill="none" stroke="#000" stroke-width="1.0"/><polygon points="110.8,103.9 113.6,103.9 113.6,110.7 106.8,110.7 106.8,107.9" fill="#000" stroke="#000" stroke-width="0.3" stroke-linejoin="miter"/><rect x="120.1" y="109.4" width="6.8" height="6.8" fill="none" stroke="#000" stroke-width="1.0"/><polygon points="124.1,109.4 126.9,109.4 126.9,116.2 120.1,116.2 120.1,113.4" fill="#000" stroke="#000" stroke-width="0.3" stroke-linejoin="miter"/><rect x="133.4" y="115.9" width="6.8" height="6.8" fill="none" stroke="#000" stroke-width="1.0"/><polygon points="137.4,115.9 140.2,115.9 140.2,122.7 133.4,122.7 133.4,119.9" fill="#000" stroke="#000" stroke-width="0.3" stroke-linejoin="miter"/><rect x="146.7" y="123.9" width="6.8" height="6.8" fill="none" stroke="#000" stroke-width="1.0"/><polygon points="150.7,123.9 153.5,123.9 153.5,130.7 146.7,130.7 146.7,127.9" fill="#000" stroke="#000" stroke-width="0.3" stroke-linejoin="miter"/><rect x="160.0" y="132.9" width="6.8" height="6.8" fill="none" stroke="#000" stroke-width="1.0"/><polygon points="164.0,132.9 166.8,132.9 166.8,139.7 160.0,139.7 160.0,136.9" fill="#000" stroke="#000" stroke-width="0.3" stroke-linejoin="miter"/><rect x="173.3" y="142.4" width="6.8" height="6.8" fill="none" stroke="#000" stroke-width="1.0"/><polygon points="177.3,142.4 180.1,142.4 180.1,149.2 173.3,149.2 173.3,146.4" fill="#000" stroke="#000" stroke-width="0.3" stroke-linejoin="miter"/><rect x="186.6" y="156.2" width="6.8" height="6.8" fill="none" stroke="#000" stroke-width="1.0"/><polygon points="190.6,156.2 193.4,156.2 193.4,163.0 186.6,163.0 186.6,160.2" fill="#000" stroke="#000" stroke-width="0.3" stroke-linejoin="miter"/><rect x="199.9" y="169.2" width="6.8" height="6.8" fill="none" stroke="#000" stroke-width="1.0"/><polygon points="203.9,169.2 206.7,169.2 206.7,176.0 199.9,176.0 199.9,173.2" fill="#000" stroke="#000" stroke-width="0.3" stroke-linejoin="miter"/><rect x="213.2" y="183.0" width="6.8" height="6.8" fill="none" stroke="#000" stroke-width="1.0"/><polygon points="217.2,183.0 220.0,183.0 220.0,189.8 213.2,189.8 213.2,187.0" fill="#000" stroke="#000" stroke-width="0.3" stroke-linejoin="miter"/><rect x="226.5" y="192.2" width="6.8" height="6.8" fill="none" stroke="#000" stroke-width="1.0"/><polygon points="230.5,192.2 233.3,192.2 233.3,199.0 226.5,199.0 226.5,196.2" fill="#000" stroke="#000" stroke-width="0.3" stroke-linejoin="miter"/><rect x="239.8" y="198.0" width="6.8" height="6.8" fill="none" stroke="#000" stroke-width="1.0"/><polygon points="243.8,198.0 246.6,198.0 246.6,204.8 239.8,204.8 239.8,202.0" fill="#000" stroke="#000" stroke-width="0.3" stroke-linejoin="miter"/><rect x="253.1" y="200.9" width="6.8" height="6.8" fill="none" stroke="#000" stroke-width="1.0"/><polygon points="257.1,200.9 259.9,200.9 259.9,207.7 253.1,207.7 253.1,204.9" fill="#000" stroke="#000" stroke-width="0.3" stroke-linejoin="miter"/><rect x="266.4" y="203.2" width="6.8" height="6.8" fill="none" stroke="#000" stroke-width="1.0"/><polygon points="270.4,203.2 273.2,203.2 273.2,210.0 266.4,210.0 266.4,207.2" fill="#000" stroke="#000" stroke-width="0.3" stroke-linejoin="miter"/><rect x="279.7" y="204.4" width="6.8" height="6.8" fill="none" stroke="#000" stroke-width="1.0"/><polygon points="283.7,204.4 286.5,204.4 286.5,211.2 279.7,211.2 279.7,208.4" fill="#000" stroke="#000" stroke-width="0.3" stroke-linejoin="miter"/><rect x="293.0" y="205.3" width="6.8" height="6.8" fill="none" stroke="#000" stroke-width="1.0"/><polygon points="297.0,205.3 299.8,205.3 299.8,212.1 293.0,212.1 293.0,209.3" fill="#000" stroke="#000" stroke-width="0.3" stroke-linejoin="miter"/><rect x="306.3" y="206.0" width="6.8" height="6.8" fill="none" stroke="#000" stroke-width="1.0"/><polygon points="310.3,206.0 313.1,206.0 313.1,212.8 306.3,212.8 306.3,210.0" fill="#000" stroke="#000" stroke-width="0.3" stroke-linejoin="miter"/></g>
<g><polygon points="59.5,85.6 59.5,93.0 52.1,93.0" fill="#000" stroke="#000" stroke-width="0.3" stroke-linejoin="miter"/><polygon points="72.8,88.6 72.8,96.0 65.4,96.0" fill="#000" stroke="#000" stroke-width="0.3" stroke-linejoin="miter"/><polygon points="86.1,92.1 86.1,99.5 78.7,99.5" fill="#000" stroke="#000" stroke-width="0.3" stroke-linejoin="miter"/><polygon points="99.4,96.1 99.4,103.5 92.0,103.5" fill="#000" stroke="#000" stroke-width="0.3" stroke-linejoin="miter"/><polygon points="112.7,101.1 112.7,108.5 105.3,108.5" fill="#000" stroke="#000" stroke-width="0.3" stroke-linejoin="miter"/><polygon points="126.0,106.6 126.0,114.0 118.6,114.0" fill="#000" stroke="#000" stroke-width="0.3" stroke-linejoin="miter"/><polygon points="139.3,113.1 139.3,120.5 131.9,120.5" fill="#000" stroke="#000" stroke-width="0.3" stroke-linejoin="miter"/><polygon points="152.6,121.1 152.6,128.5 145.2,128.5" fill="#000" stroke="#000" stroke-width="0.3" stroke-linejoin="miter"/><polygon points="165.9,130.1 165.9,137.5 158.5,137.5" fill="#000" stroke="#000" stroke-width="0.3" stroke-linejoin="miter"/><polygon points="179.2,139.6 179.2,147.0 171.8,147.0" fill="#000" stroke="#000" stroke-width="0.3" stroke-linejoin="miter"/><polygon points="192.5,153.6 192.5,161.0 185.1,161.0" fill="#000" stroke="#000" stroke-width="0.3" stroke-linejoin="miter"/><polygon points="205.8,166.8 205.8,174.2 198.4,174.2" fill="#000" stroke="#000" stroke-width="0.3" stroke-linejoin="miter"/><polygon points="219.1,180.9 219.1,188.3 211.7,188.3" fill="#000" stroke="#000" stroke-width="0.3" stroke-linejoin="miter"/><polygon points="232.4,190.5 232.4,197.9 225.0,197.9" fill="#000" stroke="#000" stroke-width="0.3" stroke-linejoin="miter"/><polygon points="245.7,196.5 245.7,203.9 238.3,203.9" fill="#000" stroke="#000" stroke-width="0.3" stroke-linejoin="miter"/><polygon points="259.0,199.5 259.0,206.9 251.6,206.9" fill="#000" stroke="#000" stroke-width="0.3" stroke-linejoin="miter"/><polygon points="272.3,201.9 272.3,209.3 264.9,209.3" fill="#000" stroke="#000" stroke-width="0.3" stroke-linejoin="miter"/><polygon points="285.6,203.2 285.6,210.6 278.2,210.6" fill="#000" stroke="#000" stroke-width="0.3" stroke-linejoin="miter"/><polygon points="298.9,204.1 298.9,211.5 291.5,211.5" fill="#000" stroke="#000" stroke-width="0.3" stroke-linejoin="miter"/><polygon points="312.2,204.9 312.2,212.3 304.8,212.3" fill="#000" stroke="#000" stroke-width="0.3" stroke-linejoin="miter"/></g>
</g>
<rect x="50.6" y="13.2" width="265.3" height="220.2" fill="none" stroke="#000" stroke-width="1.3"/>
<path d="M94.8 13.2v5.3M94.8 233.4v-5.3M139.0 13.2v5.3M139.0 233.4v-5.3M183.2 13.2v5.3M183.2 233.4v-5.3M227.5 13.2v5.3M227.5 233.4v-5.3M271.7 13.2v5.3M271.7 233.4v-5.3M50.6 178.4h5.3M315.9 178.4h-5.3M50.6 123.3h5.3M315.9 123.3h-5.3M50.6 68.2h5.3M315.9 68.2h-5.3" stroke="#000" stroke-width="1.2" fill="none"/>
<g font-size="14.6px" stroke="#000" stroke-width="0.3">
<text transform="translate(45.7 233.5) scale(1.045 1)" text-anchor="end">0</text>
<text transform="translate(45.7 178.5) scale(1.045 1)" text-anchor="end">50</text>
<text transform="translate(45.7 123.4) scale(1.045 1)" text-anchor="end">100</text>
<text transform="translate(45.7 68.3) scale(1.045 1)" text-anchor="end">150</text>
<text transform="translate(45.7 13.3) scale(1.045 1)" text-anchor="end">200</text>
<text transform="translate(48.8 251.7) scale(1.045 1)" text-anchor="middle">200</text>
<text transform="translate(93.0 251.7) scale(1.045 1)" text-anchor="middle">250</text>
<text transform="translate(137.2 251.7) scale(1.045 1)" text-anchor="middle">300</text>
<text transform="translate(181.4 251.7) scale(1.045 1)" text-anchor="middle">350</text>
<text transform="translate(225.7 251.7) scale(1.045 1)" text-anchor="middle">400</text>
<text transform="translate(269.9 251.7) scale(1.045 1)" text-anchor="middle">450</text>
<text transform="translate(314.1 251.7) scale(1.045 1)" text-anchor="middle">500</text>
</g>
<g stroke="#000" stroke-width="0.3"><text transform="translate(183.2 269.9) scale(1.045 1)" font-size="15px" text-anchor="middle">T (K)</text>
<text transform="translate(13.4 133.4) rotate(-90) scale(1.045 1)" font-size="15px" text-anchor="middle">M (emu/g)</text></g>
<rect x="106.0" y="25.3" width="87.9" height="62.8" fill="#fff" stroke="none"/>
<polyline points="117.1,86.1 117.4,81.5 117.7,77.7 117.9,74.5 118.2,71.6 118.5,69.2 118.8,67.0 119.1,65.1 119.4,63.4 119.6,61.8 119.9,60.4 120.2,59.2 120.5,58.0 120.8,56.9 121.0,56.0 121.3,55.1 121.6,54.3 121.9,53.5 122.2,52.8 122.5,52.1 122.7,51.5 123.0,50.9 123.3,50.4 123.6,49.8 123.9,49.4 124.2,48.9 124.4,48.5 124.7,48.0 125.0,47.7 125.3,47.3 125.6,46.9 125.8,46.6 126.1,46.3 126.4,46.0 126.7,45.7 127.0,45.4 127.3,45.1 127.5,44.9 127.8,44.6 128.1,44.4 128.4,44.2 128.7,44.0 129.0,43.8 129.2,43.6 129.5,43.4 129.8,43.2 130.1,43.0 130.4,42.8 130.6,42.7 130.9,42.5 131.2,42.3 131.5,42.2 131.8,42.0 132.1,41.9 132.3,41.8 132.6,41.6 132.9,41.5 133.2,41.4 133.5,41.3 133.8,41.1 134.0,41.0 134.3,40.9 134.6,40.8 134.9,40.7 135.2,40.6 135.4,40.5 135.7,40.4 136.0,40.3 136.3,40.2 136.6,40.1 136.9,40.0 137.1,39.9 137.4,39.9 137.7,39.8 138.0,39.7 138.3,39.6 138.6,39.5 138.8,39.5 139.1,39.4 139.4,39.3 139.7,39.2 140.0,39.2 140.2,39.1 140.5,39.0 140.8,39.0 141.1,38.9 141.4,38.9 141.7,38.8 141.9,38.7 142.2,38.7 142.5,38.6 142.8,38.6 143.1,38.5 143.3,38.5 143.6,38.4 143.9,38.4 144.2,38.3 144.5,38.3 144.8,38.2 145.0,38.2 145.3,38.1 145.6,38.1 145.9,38.0 146.2,38.0 146.5,37.9 146.7,37.9 147.0,37.9 147.3,37.8 147.6,37.8 147.9,37.7 148.1,37.7 148.4,37.7 148.7,37.6 149.0,37.6 149.3,37.5 149.6,37.5 149.8,37.5 150.1,37.4 150.4,37.4 150.7,37.4 151.0,37.3 151.3,37.3 151.5,37.3 151.8,37.2 152.1,37.2 152.4,37.2 152.7,37.1 152.9,37.1 153.2,37.1 153.5,37.1 153.8,37.0 154.1,37.0 154.4,37.0 154.6,36.9 154.9,36.9 155.2,36.9 155.5,36.9 155.8,36.8 156.1,36.8 156.3,36.8 156.6,36.8 156.9,36.7 157.2,36.7 157.5,36.7 157.7,36.7 158.0,36.6 158.3,36.6 158.6,36.6 158.9,36.6 159.2,36.5 159.4,36.5 159.7,36.5 160.0,36.5 160.3,36.5 160.6,36.4 160.8,36.4 161.1,36.4 161.4,36.4 161.7,36.4 162.0,36.3 162.3,36.3 162.5,36.3 162.8,36.3 163.1,36.3 163.4,36.2 163.7,36.2 164.0,36.2 164.2,36.2 164.5,36.2 164.8,36.2 165.1,36.1 165.4,36.1 165.6,36.1 165.9,36.1 166.2,36.1 166.5,36.0 166.8,36.0 167.1,36.0 167.3,36.0 167.6,36.0 167.9,36.0 168.2,36.0 168.5,35.9 168.8,35.9 169.0,35.9 169.3,35.9 169.6,35.9 169.9,35.9 170.2,35.8 170.4,35.8 170.7,35.8 171.0,35.8 171.3,35.8 171.6,35.8 171.9,35.8 172.1,35.8 172.4,35.7 172.7,35.7 173.0,35.7 173.3,35.7 173.6,35.7 173.8,35.7 174.1,35.7 174.4,35.6 174.7,35.6 175.0,35.6 175.2,35.6 175.5,35.6 175.8,35.6 176.1,35.6 176.4,35.6 176.7,35.6 176.9,35.5 177.2,35.5 177.5,35.5 177.8,35.5 178.1,35.5 178.4,35.5 178.6,35.5 178.9,35.5 179.2,35.5 179.5,35.4 179.8,35.4 180.0,35.4 180.3,35.4 180.6,35.4 180.9,35.4 181.2,35.4 181.5,35.4 181.7,35.4 182.0,35.4 182.3,35.3 182.6,35.3 182.9,35.3 183.1,35.3 183.4,35.3 183.7,35.3 184.0,35.3 184.3,35.3 184.6,35.3" fill="none" stroke="#000" stroke-width="1.5"/>
<rect x="115.5" y="83.1" width="4.9" height="4.9" fill="#000"/>
<rect x="115.5" y="80.3" width="4.9" height="4.9" fill="#000"/>
<rect x="115.8" y="77.2" width="4.9" height="4.9" fill="#000"/>
<rect x="116.3" y="71.2" width="4.9" height="4.9" fill="#000"/>
<rect x="117.2" y="65.5" width="4.9" height="4.9" fill="#000"/>
<rect x="119.0" y="59.4" width="4.9" height="4.9" fill="#000"/>
<rect x="120.1" y="50.2" width="4.9" height="4.9" fill="#000"/>
<rect x="125.9" y="40.8" width="4.9" height="4.9" fill="#000"/>
<rect x="142.2" y="34.3" width="4.9" height="4.9" fill="#000"/>
<rect x="170.4" y="30.7" width="4.9" height="4.9" fill="#000"/>
<rect x="180.5" y="30.7" width="4.9" height="4.9" fill="#000"/>
<rect x="143.5" y="67.9" width="4.9" height="4.9" fill="#000"/>
<line x1="122.3" y1="79" x2="175" y2="79" stroke="#000" stroke-width="1.3"/>
<text transform="translate(190.4 72.4) scale(1.045 1)" font-size="7px" text-anchor="end">indi.</text><text transform="translate(190.8 80.7) scale(1.045 1)" font-size="7px" text-anchor="end">dir.</text>
<rect x="106.0" y="25.3" width="87.9" height="62.8" fill="none" stroke="#000" stroke-width="1.2"/>
<path d="M117.0 25.3v2.2M117.0 88.1v-2.2M149.9 25.3v2.2M149.9 88.1v-2.2M182.9 25.3v2.2M182.9 88.1v-2.2M106.0 72.4h2.2M193.9 72.4h-2.2M106.0 56.7h2.2M193.9 56.7h-2.2M106.0 41.0h2.2M193.9 41.0h-2.2" stroke="#000" stroke-width="1" fill="none"/>
<g font-size="8.6px" stroke="#000" stroke-width="0.15">
<text transform="translate(102.9 91.2) scale(1.045 1)" text-anchor="end">0</text>
<text transform="translate(102.9 75.5) scale(1.045 1)" text-anchor="end">30</text>
<text transform="translate(102.9 59.8) scale(1.045 1)" text-anchor="end">60</text>
<text transform="translate(102.9 44.1) scale(1.045 1)" text-anchor="end">90</text>
<text transform="translate(102.9 28.4) scale(1.045 1)" text-anchor="end">120</text>
<text transform="translate(117.4 99.6) scale(1.045 1)" text-anchor="middle">0</text>
<text transform="translate(150.3 99.6) scale(1.045 1)" text-anchor="middle">6</text>
<text transform="translate(183.3 99.6) scale(1.045 1)" text-anchor="middle">12</text>
<text transform="translate(150.2 109.4) scale(1.045 1)" text-anchor="middle">H (kOe)</text>
<text transform="translate(88.2 53.9) rotate(-90) scale(1.045 1)" font-size="8.0px" text-anchor="middle">M (emu/g)</text>
</g>
<g id="legend" font-size="9.2px">
<path d="M215.5 24.7H270.0" stroke="#000" stroke-width="1.45" fill="none"/>
<circle cx="242.8" cy="24.7" r="2.6" fill="none" stroke="#000" stroke-width="1.45"/>
<text transform="translate(275.4 27.0) scale(1.045 1)" stroke="#000" stroke-width="0.15" text-anchor="start">50 Oe</text>
<path d="M228.3 35.6H235.7M245.3 35.6H266.9" stroke="#000" stroke-width="1.45" fill="none"/>
<polygon points="240.1,31.7 240.1,39.4 247.8,39.4" fill="#000" stroke="#000" stroke-width="0.3" stroke-linejoin="miter"/>
<text transform="translate(275.4 37.9) scale(1.045 1)" stroke="#000" stroke-width="0.15" text-anchor="start">70 oe</text>
<path d="M228.3 46.5H239.4M253.5 46.5H266.9" stroke="#000" stroke-width="1.45" fill="none"/>
<polygon points="240.2,46.5 242.8,43.9 245.4,46.5 242.8,49.1" fill="none" stroke="#000" stroke-width="1.75" stroke-linejoin="miter"/>
<text transform="translate(275.4 48.8) scale(1.045 1)" stroke="#000" stroke-width="0.15" text-anchor="start">100 Oe</text>
<path d="M215.5 57.4H220.0M223.8 57.4H228.3M231.0 57.4H235.7M252.7 57.4H256.8M260.5 57.4H265.0M267.8 57.4H270.0" stroke="#000" stroke-width="1.45" fill="none"/>
<polygon points="239.2,57.4 242.8,53.8 246.4,57.4 242.8,60.9" fill="#000" stroke="#000" stroke-width="0.4" stroke-linejoin="miter"/>
<text transform="translate(275.4 59.7) scale(1.045 1)" stroke="#000" stroke-width="0.15" text-anchor="start">200 Oe</text>
<path d="M215.5 68.2H218.3M222.8 68.2H225.6M228.3 68.2H231.1M253.1 68.2H255.9M259.9 68.2H262.7M266.0 68.2H268.8" stroke="#000" stroke-width="1.45" fill="none"/>
<polygon points="239.9,71.0 242.8,65.7 245.7,71.0" fill="none" stroke="#000" stroke-width="1.5" stroke-linejoin="miter"/>
<text transform="translate(275.4 70.5) scale(1.045 1)" stroke="#000" stroke-width="0.15" text-anchor="start">350 Oe</text>
<path d="M215.5 79.1H218.0M236.6 79.1H238.5M245.8 79.1H267.8" stroke="#000" stroke-width="1.45" fill="none"/>
<circle cx="242.8" cy="79.1" r="3.3" fill="#000" stroke="#000" stroke-width="0.6"/>
<text transform="translate(275.4 81.4) scale(1.045 1)" stroke="#000" stroke-width="0.15" text-anchor="start">500 Oe</text>
<path d="M219.2 90.0H221.4M228.3 90.0H237.5M253.1 90.0H262.3" stroke="#000" stroke-width="1.45" fill="none"/>
<polygon points="245.5,87.2 240.2,90.0 245.5,92.8" fill="none" stroke="#000" stroke-width="1.5" stroke-linejoin="miter"/>
<text transform="translate(275.4 92.3) scale(1.045 1)" stroke="#000" stroke-width="0.15" text-anchor="start">700 Oe</text>
<path d="M220.0 100.9H222.5M225.6 100.9H228.0M231.0 100.9H233.5M235.7 100.9H238.4M246.7 100.9H251.3M254.0 100.9H266.9" stroke="#000" stroke-width="1.45" fill="none"/>
<rect x="240.0" y="98.1" width="5.6" height="5.6" fill="none" stroke="#000" stroke-width="1.5"/><line x1="240.0" y1="103.7" x2="245.6" y2="98.1" stroke="#000" stroke-width="1.5"/>
<text transform="translate(275.4 103.2) scale(1.045 1)" stroke="#000" stroke-width="0.15" text-anchor="start">850 Oe</text>
<path d="M220.0 111.8H223.8M226.5 111.8H230.2M233.0 111.8H235.6M237.6 111.8H247.8M253.1 111.8H256.8M259.2 111.8H262.8M264.7 111.8H268.3" stroke="#000" stroke-width="1.45" fill="none"/>
<polygon points="238.7,111.8 242.8,108.1 246.9,111.8 242.8,115.5" fill="#000" stroke="#000" stroke-width="0.4" stroke-linejoin="miter"/>
<text transform="translate(275.4 114.1) scale(1.045 1)" stroke="#000" stroke-width="0.15" text-anchor="start">1 kOe</text>
<path d="M215.5 122.7H218.0M220.5 122.7H223.0M225.5 122.7H228.0M230.5 122.7H233.0M235.5 122.7H238.0M240.5 122.7H243.0M245.5 122.7H248.0M250.5 122.7H253.0M255.5 122.7H258.0M260.5 122.7H263.0M265.5 122.7H268.0" stroke="#000" stroke-width="1.45" fill="none"/>
<polygon points="239.1,125.9 242.8,118.8 246.5,125.9" fill="#000" stroke="#000" stroke-width="0.4" stroke-linejoin="miter"/>
<text transform="translate(275.4 125.0) scale(1.045 1)" stroke="#000" stroke-width="0.15" text-anchor="start">1.2 kOe</text>
<path d="M215.5 133.6H270.0" stroke="#000" stroke-width="1.45" fill="none"/>
<polygon points="239.0,130.0 242.8,137.2 246.6,130.0" fill="#000" stroke="#000" stroke-width="0.4" stroke-linejoin="miter"/>
<text transform="translate(275.4 135.9) scale(1.045 1)" stroke="#000" stroke-width="0.15" text-anchor="start">1.5 kOe</text>
<path d="M228.3 144.4H235.7M246.0 144.4H266.9" stroke="#000" stroke-width="1.45" fill="none"/>
<circle cx="242.8" cy="144.4" r="2.95" fill="#fff" stroke="#000" stroke-width="1.25"/><circle cx="242.8" cy="144.4" r="1.0" fill="#000"/>
<text transform="translate(275.4 146.7) scale(1.045 1)" stroke="#000" stroke-width="0.15" text-anchor="start">2 kOe</text>
<path d="M228.3 155.3H240.3M253.5 155.3H266.9" stroke="#000" stroke-width="1.45" fill="none"/>
<polygon points="240.2,155.3 242.8,153.1 245.4,155.3 242.8,157.5" fill="#000" stroke="#000" stroke-width="0.6" stroke-linejoin="miter"/><path d="M239.9 155.3H245.7M242.8 152.8V157.8" stroke="#000" stroke-width="1.1"/>
<text transform="translate(275.4 157.6) scale(1.045 1)" stroke="#000" stroke-width="0.15" text-anchor="start">5 kOe</text>
<path d="M215.5 166.2H220.0M223.8 166.2H228.3M231.0 166.2H235.7M253.1 166.2H257.7M260.5 166.2H265.0M267.8 166.2H270.0" stroke="#000" stroke-width="1.45" fill="none"/>
<rect x="239.4" y="162.8" width="6.8" height="6.8" fill="none" stroke="#000" stroke-width="1.0"/><polygon points="243.4,162.8 246.2,162.8 246.2,169.6 239.4,169.6 239.4,166.8" fill="#000" stroke="#000" stroke-width="0.3" stroke-linejoin="miter"/>
<text transform="translate(275.4 168.5) scale(1.045 1)" stroke="#000" stroke-width="0.15" text-anchor="start">10 kOe</text>
<path d="M215.5 177.1H218.3M228.3 177.1H231.1M253.1 177.1H256.8M260.5 177.1H263.2M267.8 177.1H270.0" stroke="#000" stroke-width="1.45" fill="none"/>
<polygon points="245.3,173.4 245.3,180.8 237.9,180.8" fill="#000" stroke="#000" stroke-width="0.3" stroke-linejoin="miter"/>
<text transform="translate(275.4 179.4) scale(1.045 1)" stroke="#000" stroke-width="0.15" text-anchor="start">12 kOe</text>
</g>
</svg>
</body>
</html>
